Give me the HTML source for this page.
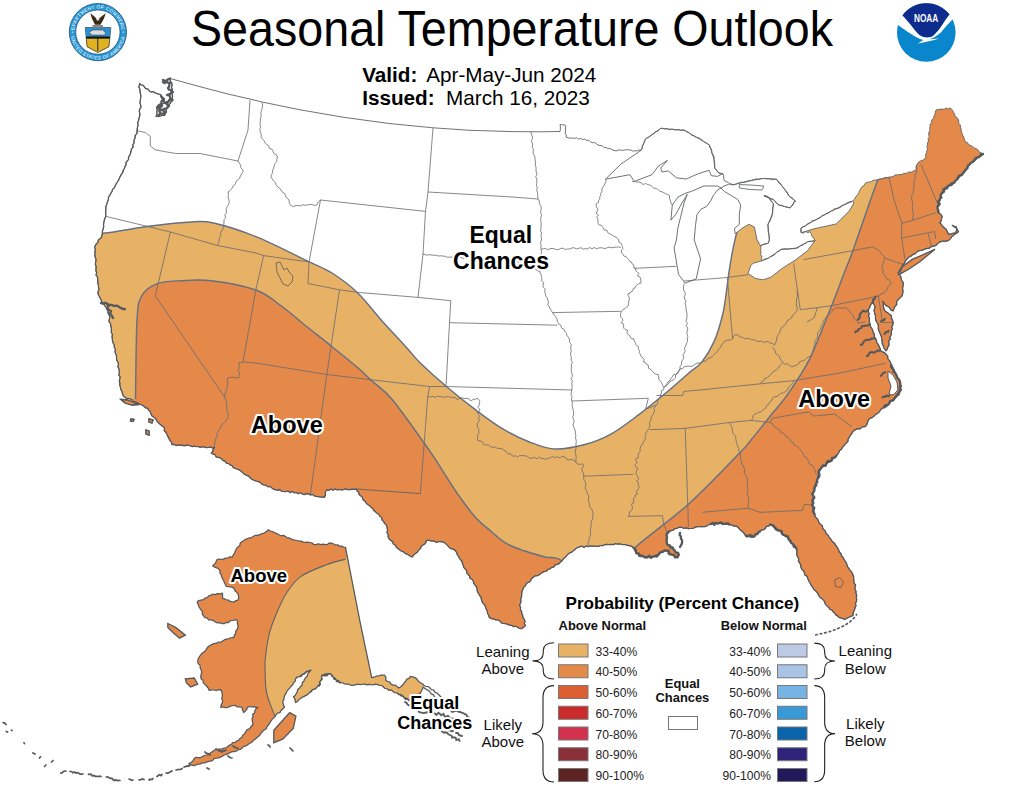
<!DOCTYPE html>
<html><head><meta charset="utf-8"><style>
html,body{margin:0;padding:0;background:#fff;}
svg{display:block;font-family:"Liberation Sans",sans-serif;}
</style></head><body>
<svg width="1024" height="791" viewBox="0 0 1024 791">
<rect width="1024" height="791" fill="#fff"/>

<defs>
<clipPath id="land"><path d="M139.8,83.3 L141.0,85.0 L143.4,85.3 L144.5,87.2 L145.9,88.7 L148.1,89.1 L149.3,90.9 L151.0,92.0 L153.3,91.6 L155.0,92.9 L156.9,93.5 L158.7,94.2 L160.7,94.7 L161.6,96.5 L162.1,98.5 L162.6,100.4 L164.5,102.3 L162.9,103.7 L161.6,105.4 L159.8,106.6 L158.6,108.4 L157.0,109.8 L156.8,112.0 L157.0,114.4 L156.0,116.5 L158.1,116.4 L160.2,116.0 L162.3,115.4 L164.5,115.5 L165.5,113.1 L166.2,110.6 L166.4,108.0 L167.7,106.4 L168.7,104.6 L170.3,103.4 L171.2,101.5 L173.0,100.4 L172.3,98.3 L172.6,96.1 L172.0,93.9 L172.4,91.7 L172.4,89.5 L171.5,87.4 L172.1,85.2 L171.7,82.9 L170.2,80.9 L170.2,78.5 L200.0,86.7 L230.0,94.5 L250.0,99.0 L262.0,102.0 L300.0,109.8 L345.0,117.5 L390.0,123.6 L433.0,127.8 L470.0,130.3 L512.0,131.6 L540.0,131.8 L560.0,131.5 L560.4,129.2 L560.4,126.8 L560.0,124.5 L562.5,124.8 L565.0,125.0 L565.8,126.9 L565.3,129.0 L565.7,131.0 L565.0,133.1 L566.4,135.0 L566.0,137.0 L568.1,137.8 L570.1,138.2 L572.3,138.0 L574.4,138.4 L576.6,137.7 L578.6,139.1 L580.8,138.5 L582.8,139.5 L585.0,139.0 L586.6,140.4 L588.9,140.2 L590.5,141.8 L592.2,142.8 L594.6,142.5 L596.3,143.7 L598.0,145.0 L600.0,145.5 L602.2,145.7 L603.8,147.5 L606.1,147.3 L607.8,148.7 L610.2,148.5 L612.0,149.7 L614.0,150.4 L616.1,151.0 L618.2,150.0 L620.2,150.0 L622.3,150.4 L624.4,150.1 L626.5,149.7 L628.5,149.9 L630.6,149.9 L632.7,151.1 L634.8,150.7 L636.8,151.0 L638.9,149.9 L641.0,150.4 L642.3,148.3 L642.2,145.8 L643.6,143.8 L644.6,141.6 L645.3,139.3 L646.9,137.9 L649.1,137.3 L650.5,135.7 L652.3,134.5 L654.2,133.7 L655.3,131.5 L657.8,131.3 L659.2,129.7 L660.8,128.3 L662.8,128.3 L664.8,129.1 L666.9,128.5 L668.8,129.8 L670.9,129.3 L672.9,129.2 L674.9,130.0 L676.9,129.7 L679.0,129.5 L680.9,130.5 L683.0,129.6 L685.0,130.5 L686.5,131.9 L688.7,132.3 L690.1,133.8 L691.6,135.3 L693.7,135.8 L695.4,136.9 L697.4,137.5 L699.4,138.1 L701.1,139.2 L702.8,140.4 L704.2,142.0 L706.1,142.8 L707.7,144.0 L709.5,145.0 L709.6,147.2 L711.3,148.9 L711.8,151.0 L711.9,153.2 L713.4,155.0 L714.1,157.0 L714.0,159.3 L714.4,161.5 L714.9,163.7 L714.7,166.0 L714.7,168.2 L716.4,169.5 L717.3,171.5 L718.8,173.0 L720.8,173.5 L722.9,173.7 L723.8,175.9 L723.7,178.3 L724.3,180.5 L726.1,181.6 L728.2,182.3 L729.7,183.9 L732.0,184.9 L734.5,184.6 L736.7,183.6 L738.9,182.9 L741.1,182.2 L743.6,182.4 L745.9,182.1 L748.0,181.0 L750.1,181.1 L752.1,180.1 L754.2,179.6 L756.2,178.8 L758.4,179.4 L760.4,178.9 L762.5,178.5 L764.8,178.4 L767.1,178.9 L769.4,178.7 L771.6,179.6 L773.9,179.3 L776.2,179.1 L777.9,180.5 L778.5,182.8 L780.8,183.6 L781.6,185.7 L783.0,187.3 L784.5,189.1 L786.1,190.9 L787.7,192.7 L788.2,195.2 L789.9,196.9 L792.2,197.7 L793.5,199.7 L795.4,201.0 L793.5,202.3 L793.1,204.8 L791.6,206.5 L789.9,207.9 L787.8,207.2 L785.5,206.8 L783.4,206.0 L781.3,205.2 L779.0,205.1 L776.8,203.6 L775.1,201.6 L773.5,199.6 L771.5,199.1 L769.4,198.6 L768.0,196.6 L766.0,195.9 L763.9,195.5 L765.6,196.7 L767.9,196.7 L769.4,198.3 L770.4,200.4 L771.8,202.2 L773.5,203.8 L773.3,206.0 L772.6,208.1 L772.7,210.3 L772.8,212.6 L772.1,214.7 L771.8,216.9 L770.8,218.7 L770.3,220.7 L769.0,222.5 L768.0,224.3 L767.8,226.6 L768.1,228.8 L768.1,231.1 L768.5,233.3 L769.3,235.5 L769.1,237.8 L769.4,240.0 L768.3,243.1 L766.4,243.8 L764.2,243.9 L762.4,244.9 L760.4,245.6 L761.0,247.7 L760.6,249.9 L761.0,252.0 L760.6,254.3 L761.9,256.4 L761.2,258.7 L762.0,260.8 L763.8,259.3 L766.1,258.8 L768.3,258.3 L769.9,256.7 L772.1,256.1 L774.1,255.0 L775.8,253.5 L777.2,251.7 L779.5,251.1 L781.0,249.4 L783.1,249.0 L785.3,248.7 L787.5,249.5 L789.6,248.9 L791.7,248.8 L793.9,248.6 L796.0,248.2 L798.3,247.8 L799.8,246.0 L802.0,245.4 L803.8,244.2 L805.8,243.3 L807.5,241.8 L810.0,241.3 L812.6,241.3 L815.0,240.6 L814.1,238.8 L812.7,237.2 L811.6,235.5 L811.2,233.4 L810.0,231.7 L807.9,232.6 L805.5,231.6 L803.5,233.0 L801.2,232.7 L800.5,230.3 L801.2,228.0 L802.7,226.5 L805.0,226.6 L806.4,224.8 L808.0,223.5 L810.0,223.0 L811.4,221.4 L813.2,220.4 L815.4,220.3 L817.2,219.2 L819.0,218.3 L820.8,217.3 L822.0,215.4 L824.2,215.1 L825.8,213.8 L827.9,213.4 L829.7,212.4 L831.2,211.0 L833.3,210.7 L834.6,208.7 L836.9,208.9 L838.7,208.1 L840.6,207.3 L841.8,205.3 L843.9,205.0 L845.8,203.7 L847.9,202.6 L850.0,201.6 L852.4,201.3 L854.1,199.8 L855.3,198.0 L856.3,196.1 L857.8,194.5 L858.9,192.5 L859.7,190.4 L860.7,188.5 L862.0,186.7 L864.1,185.5 L865.0,183.5 L867.0,182.4 L869.2,182.0 L871.4,181.5 L873.3,180.3 L875.6,180.0 L877.8,179.7 L879.7,178.9 L881.9,179.1 L883.8,178.1 L885.7,177.6 L888.0,178.0 L889.8,176.9 L891.9,176.9 L893.8,176.1 L895.6,174.8 L897.8,174.9 L899.8,174.5 L901.9,174.5 L903.7,173.4 L905.9,173.4 L907.8,172.7 L909.7,171.8 L911.9,172.3 L913.7,170.7 L915.8,170.8 L916.7,168.8 L916.1,166.4 L917.0,164.4 L918.3,162.3 L920.3,161.1 L922.6,160.3 L924.7,159.0 L926.0,157.0 L925.5,154.9 L926.5,152.9 L926.8,150.9 L927.5,148.9 L926.9,146.8 L927.6,144.8 L927.6,142.7 L928.6,140.8 L928.0,138.7 L929.3,136.8 L928.6,134.6 L928.8,132.5 L929.8,130.6 L929.7,128.5 L930.0,126.5 L930.2,124.2 L931.7,122.4 L931.7,120.1 L933.4,118.4 L934.0,116.3 L934.9,114.3 L935.4,112.1 L936.0,110.0 L938.0,109.5 L940.0,109.3 L942.0,109.0 L944.1,109.4 L945.9,108.0 L948.1,108.9 L950.0,108.0 L951.9,109.4 L953.0,111.4 L954.3,113.3 L954.8,115.7 L956.7,117.2 L958.0,119.0 L958.8,121.0 L958.7,123.3 L960.3,125.1 L960.6,127.2 L961.1,129.3 L961.5,131.5 L962.1,133.6 L962.9,135.6 L963.9,137.5 L964.6,139.6 L965.0,141.7 L967.3,142.5 L968.7,144.6 L970.9,145.7 L973.0,146.7 L974.5,148.2 L976.6,148.7 L978.1,150.3 L979.4,151.9 L981.3,152.9 L983.0,154.0 L981.5,155.8 L979.4,156.7 L977.3,157.5 L976.0,159.6 L974.3,160.9 L972.4,162.1 L970.4,163.2 L968.9,164.7 L967.5,166.3 L967.0,168.6 L965.7,170.3 L964.4,171.9 L962.8,173.4 L961.5,175.1 L959.7,176.4 L958.6,178.3 L956.9,179.7 L955.2,181.0 L953.8,182.6 L951.4,182.9 L949.9,184.5 L948.8,186.5 L946.3,186.7 L945.0,188.5 L944.5,190.8 L943.2,192.7 L941.3,194.3 L940.6,196.5 L940.0,198.7 L939.0,200.5 L938.8,202.5 L938.6,204.5 L937.5,206.3 L937.6,208.4 L938.7,210.4 L938.4,212.6 L940.6,214.2 L942.2,216.4 L941.5,218.6 L941.2,220.9 L939.7,222.8 L941.4,224.3 L942.5,226.3 L944.2,227.7 L946.0,229.1 L947.2,231.6 L948.5,234.1 L951.1,233.9 L953.6,233.2 L956.1,232.9 L956.2,230.8 L957.4,229.1 L955.8,227.7 L953.9,226.7 L952.3,225.3 L954.1,226.3 L956.1,226.6 L956.8,229.4 L958.6,231.6 L957.0,233.0 L955.2,234.0 L953.6,235.4 L951.6,236.8 L950.3,238.9 L948.5,240.5 L946.0,241.3 L943.4,241.0 L940.9,241.7 L938.9,242.5 L937.3,243.9 L935.9,245.5 L933.7,246.1 L931.4,246.7 L929.5,248.1 L927.4,248.3 L925.4,248.9 L923.5,249.7 L921.5,250.4 L919.4,250.6 L917.2,251.7 L915.5,253.6 L913.1,254.4 L911.5,255.8 L909.4,256.6 L908.0,258.2 L906.5,259.6 L905.3,261.2 L904.5,263.2 L903.0,264.5 L902.1,266.3 L901.0,268.1 L899.8,269.7 L899.0,271.6 L897.9,273.3 L900.5,275.9 L901.1,278.1 L901.6,280.3 L903.0,282.2 L903.5,284.4 L902.8,286.6 L902.6,288.8 L903.0,291.0 L902.7,293.5 L902.0,296.0 L900.2,297.8 L898.4,299.5 L896.6,301.5 L896.7,304.5 L894.9,306.5 L893.9,308.7 L893.1,311.0 L891.0,310.1 L889.8,308.0 L888.2,306.5 L886.0,305.7 L884.3,303.4 L882.5,301.2 L883.5,303.3 L883.2,305.6 L883.7,307.8 L884.2,310.0 L885.8,311.6 L887.7,312.7 L889.4,314.2 L891.3,315.4 L891.4,317.9 L892.5,320.1 L893.1,322.5 L892.9,324.6 L891.7,326.6 L892.4,328.9 L891.4,330.9 L891.3,333.1 L891.0,335.2 L889.9,337.1 L890.3,339.3 L888.6,341.0 L889.0,343.3 L888.9,345.4 L887.8,347.3 L887.2,349.3 L886.0,351.0 L884.0,348.0 L883.3,345.9 L882.2,343.8 L882.2,341.5 L881.7,339.4 L881.5,337.1 L880.7,335.0 L879.8,332.9 L879.0,330.9 L878.3,328.7 L878.4,326.4 L878.0,324.2 L876.8,322.2 L875.7,320.3 L875.4,318.0 L875.6,316.0 L874.8,314.0 L874.4,312.0 L874.0,310.1 L874.8,308.0 L874.7,306.0 L874.0,304.0 L871.9,303.0 L870.5,305.2 L869.5,307.7 L868.3,310.0 L868.5,312.0 L869.2,314.0 L868.4,316.2 L869.5,318.1 L869.4,320.2 L869.4,322.2 L870.1,324.2 L870.4,326.4 L871.7,328.2 L872.7,330.2 L873.1,332.3 L874.4,334.1 L874.2,336.5 L875.4,338.4 L876.5,340.4 L876.7,342.7 L878.4,344.5 L879.1,346.6 L880.2,348.6 L880.7,350.8 L882.5,351.9 L884.5,352.7 L886.0,354.3 L887.7,356.1 L887.8,358.7 L889.5,360.6 L890.6,362.7 L891.3,365.0 L892.6,367.0 L893.4,369.2 L894.6,371.3 L895.4,373.6 L896.6,375.6 L897.6,378.1 L899.2,380.2 L900.2,382.7 L899.8,385.1 L900.2,387.4 L901.0,389.7 L900.2,391.9 L898.0,393.0 L896.6,394.7 L895.4,396.6 L894.9,398.9 L893.1,400.4 L891.0,401.4 L889.4,403.0 L888.2,405.2 L886.4,406.6 L884.2,407.4 L882.0,408.3 L880.5,410.1 L879.2,412.0 L877.5,413.5 L875.4,414.5 L874.0,416.3 L872.1,417.6 L869.8,418.3 L868.3,420.0 L867.5,422.3 L866.8,424.6 L865.4,426.6 L863.3,426.7 L861.5,427.5 L859.9,429.0 L857.6,428.6 L855.8,429.6 L854.0,430.4 L852.6,432.0 L851.6,433.9 L850.2,435.5 L849.3,437.4 L848.1,439.1 L847.9,441.4 L846.4,443.0 L844.9,444.4 L843.8,446.1 L842.3,447.5 L841.4,449.4 L839.6,450.6 L838.8,452.5 L837.8,454.3 L836.3,455.7 L834.9,457.4 L833.2,458.9 L831.2,459.9 L829.9,461.8 L827.8,462.7 L826.4,464.5 L824.4,465.5 L822.7,466.9 L821.0,468.3 L820.3,470.2 L819.2,471.9 L819.8,474.2 L818.0,475.7 L817.9,477.8 L817.2,479.7 L816.4,481.5 L816.0,483.5 L814.9,485.5 L815.0,487.9 L814.3,490.0 L813.6,492.1 L812.8,494.1 L813.9,496.2 L813.0,498.2 L812.8,500.2 L813.6,502.3 L812.6,504.3 L812.6,506.3 L812.8,508.4 L813.0,510.5 L814.3,512.3 L814.6,514.4 L815.2,516.8 L817.0,518.4 L818.3,520.4 L819.0,522.8 L820.7,524.5 L822.4,525.8 L822.7,528.1 L824.0,529.8 L825.5,531.3 L826.0,533.4 L827.8,534.8 L828.8,536.6 L830.2,538.3 L831.4,540.0 L832.5,541.9 L834.5,543.1 L835.5,545.0 L836.8,546.7 L837.9,548.4 L838.8,550.3 L839.4,552.3 L841.1,553.6 L841.4,555.8 L843.0,557.3 L843.9,559.1 L844.9,560.9 L846.2,562.5 L846.9,564.4 L847.3,566.5 L848.7,568.1 L849.6,569.9 L851.2,571.3 L852.2,573.1 L853.0,575.0 L853.7,577.0 L853.6,579.1 L853.9,581.1 L854.1,583.2 L855.6,585.0 L854.9,587.2 L855.1,589.3 L856.0,591.2 L855.9,593.2 L856.7,595.3 L856.3,597.3 L856.7,599.3 L856.5,601.3 L855.4,603.4 L856.0,605.4 L855.2,607.4 L854.6,609.4 L853.8,611.3 L853.0,613.3 L853.0,615.5 L850.9,616.3 L848.9,617.3 L846.8,618.3 L844.9,619.5 L843.0,618.6 L840.9,618.0 L838.9,617.5 L837.6,615.9 L835.7,614.9 L834.7,613.0 L833.1,611.8 L832.0,610.0 L829.8,609.3 L828.8,607.4 L827.0,606.0 L825.4,604.4 L824.7,601.9 L823.4,600.1 L821.7,598.6 L819.9,597.2 L818.6,595.3 L817.8,593.4 L816.5,591.8 L815.1,590.4 L813.5,589.0 L812.6,587.2 L811.3,585.6 L810.5,583.7 L809.3,582.0 L808.5,580.2 L807.7,578.2 L807.1,576.2 L804.9,575.1 L804.5,573.0 L803.6,570.9 L801.8,569.3 L800.9,567.2 L800.8,564.7 L799.5,562.9 L798.4,560.9 L798.7,558.8 L797.7,556.9 L796.7,555.0 L796.9,552.9 L796.9,550.8 L796.4,548.8 L795.6,546.7 L794.3,545.0 L792.3,543.7 L790.9,542.1 L789.2,540.7 L788.3,538.6 L786.8,536.8 L784.8,535.7 L783.1,534.2 L781.3,532.7 L780.2,530.6 L777.8,530.0 L776.3,527.9 L773.8,527.4 L772.5,525.1 L770.1,524.5 L768.8,526.2 L766.4,526.3 L765.4,528.4 L763.8,529.7 L761.5,530.0 L760.0,531.4 L758.4,533.1 L756.1,533.9 L754.7,535.9 L752.6,536.9 L750.2,537.1 L748.1,535.6 L745.8,535.5 L744.2,533.5 L742.5,531.5 L740.3,530.1 L738.5,527.8 L736.2,526.0 L733.8,526.1 L731.7,524.9 L729.4,524.6 L726.7,523.9 L723.9,523.9 L721.8,523.8 L719.9,522.9 L717.7,523.7 L715.7,523.2 L713.3,523.0 L711.1,523.8 L708.9,524.6 L706.8,526.0 L704.5,526.7 L702.0,526.7 L699.7,526.7 L697.4,526.6 L695.2,527.3 L693.1,528.4 L690.7,528.5 L688.4,528.7 L686.2,527.9 L683.7,528.3 L681.5,527.3 L679.1,527.2 L677.0,528.3 L674.7,528.7 L673.2,530.2 L671.1,530.7 L669.2,531.4 L667.8,533.4 L666.5,535.5 L666.6,537.5 L666.5,539.6 L666.9,542.4 L667.9,545.1 L669.9,546.1 L671.0,548.2 L673.1,549.1 L674.7,550.6 L676.6,552.8 L678.8,554.7 L677.4,557.4 L675.7,556.3 L673.7,555.7 L672.0,554.7 L670.1,553.5 L668.6,551.6 L666.5,550.6 L663.6,550.7 L661.0,552.0 L658.3,554.7 L655.4,555.3 L652.8,556.7 L650.7,556.8 L648.7,557.4 L646.7,557.9 L644.6,557.4 L642.9,555.7 L640.6,555.1 L638.7,553.9 L636.4,553.3 L635.3,551.6 L634.7,549.6 L633.7,547.9 L631.7,546.3 L629.3,545.6 L626.8,545.1 L624.6,544.5 L622.2,544.5 L620.0,543.8 L617.8,544.1 L615.6,543.6 L613.5,544.6 L611.3,544.3 L609.2,544.6 L606.9,544.3 L604.8,544.7 L602.7,545.6 L600.5,545.5 L598.5,546.4 L596.4,546.3 L594.3,546.2 L592.2,546.2 L590.0,546.0 L588.0,546.7 L586.0,546.1 L584.0,547.4 L582.0,546.2 L580.0,546.7 L577.8,547.5 L575.7,548.7 L573.9,550.3 L572.2,551.9 L570.0,552.8 L568.0,554.1 L566.5,555.8 L565.0,557.5 L563.2,558.9 L562.0,561.0 L560.4,562.3 L558.9,563.8 L556.8,564.4 L554.9,565.2 L553.7,567.1 L551.5,567.5 L550.0,569.0 L547.9,569.3 L546.6,571.1 L544.5,571.5 L542.6,572.3 L541.0,573.5 L539.3,574.7 L537.5,575.6 L535.3,575.8 L533.7,577.0 L531.9,578.1 L530.9,580.0 L529.8,581.8 L527.6,582.5 L526.2,584.0 L525.3,586.0 L523.6,587.2 L523.0,589.2 L522.1,591.1 L521.7,593.1 L521.7,595.3 L521.4,597.3 L520.7,599.3 L520.9,601.5 L520.4,603.5 L519.5,605.4 L520.6,607.3 L520.4,609.5 L521.5,611.4 L521.8,613.5 L522.7,615.5 L523.1,617.5 L524.3,619.4 L525.0,621.4 L524.3,623.8 L525.6,625.6 L523.7,627.3 L521.6,628.6 L519.4,628.5 L517.6,627.2 L515.7,626.3 L513.3,626.6 L511.5,625.3 L509.4,625.1 L507.4,624.2 L505.4,623.6 L503.1,623.5 L501.1,622.7 L499.6,620.6 L497.5,620.0 L495.3,619.8 L493.3,618.9 L491.1,618.6 L489.2,617.5 L488.8,615.3 L487.5,613.5 L487.4,611.2 L486.3,609.3 L485.5,607.2 L484.9,605.1 L483.1,603.5 L482.0,601.6 L481.4,599.5 L481.0,597.3 L479.6,595.5 L478.4,593.5 L477.4,591.5 L477.1,589.2 L476.5,587.0 L475.0,585.2 L473.8,583.4 L473.3,581.2 L472.2,579.5 L470.0,578.3 L469.6,576.1 L468.2,574.5 L466.7,572.9 L466.7,570.4 L465.0,569.0 L463.8,567.4 L463.3,565.4 L462.5,563.5 L462.0,561.5 L460.7,559.9 L459.4,558.3 L458.6,556.4 L457.3,554.8 L456.8,552.8 L455.5,550.8 L453.8,549.3 L451.3,548.8 L449.4,547.6 L447.9,545.9 L446.3,544.3 L444.7,542.7 L442.7,541.9 L440.7,541.7 L438.7,541.5 L436.5,542.5 L434.6,541.2 L432.6,541.1 L430.6,540.9 L428.6,540.2 L426.5,540.7 L425.8,542.7 L424.5,544.3 L422.5,545.3 L421.1,546.8 L420.4,548.8 L418.6,550.2 L417.4,552.2 L415.5,553.5 L413.7,554.9 L412.4,556.8 L410.3,556.3 L408.7,555.0 L406.9,554.1 L405.0,553.3 L403.5,551.8 L401.5,551.2 L399.8,550.1 L398.2,548.8 L396.3,547.4 L395.5,545.1 L393.3,544.0 L392.6,541.6 L390.6,540.4 L388.9,538.8 L388.0,536.6 L388.3,534.5 L386.9,532.6 L387.6,530.4 L387.2,528.4 L386.9,526.4 L386.0,524.5 L384.4,523.2 L383.5,521.3 L381.9,520.0 L381.7,517.6 L380.0,516.4 L378.8,514.5 L377.1,513.2 L375.4,511.8 L373.7,510.4 L372.7,508.4 L370.9,507.2 L369.5,505.5 L367.5,504.5 L366.0,502.8 L364.8,501.0 L363.0,499.7 L362.5,497.5 L361.0,496.0 L359.2,494.7 L358.7,492.3 L357.0,491.0 L356.0,489.0 L353.9,489.4 L351.8,489.2 L349.8,489.7 L347.7,489.6 L345.6,488.8 L343.5,489.6 L341.4,489.9 L339.3,489.5 L337.2,489.8 L335.1,489.0 L333.1,490.2 L331.0,489.0 L328.9,490.4 L326.8,489.8 L325.6,491.5 L325.3,493.5 L325.3,495.6 L324.3,497.4 L322.3,497.1 L320.3,497.0 L318.3,496.7 L316.3,496.4 L314.3,495.8 L312.5,494.5 L310.4,494.9 L308.5,493.9 L306.4,493.7 L304.2,494.6 L302.3,494.0 L300.4,492.8 L298.2,493.8 L296.3,492.5 L294.2,492.8 L292.3,491.5 L290.1,492.6 L288.2,491.1 L286.1,491.5 L284.0,491.5 L282.0,491.4 L280.1,489.9 L278.0,490.1 L276.0,489.8 L273.8,489.4 L272.0,488.1 L270.2,486.6 L267.8,486.7 L266.0,485.3 L263.8,485.0 L261.8,484.1 L260.2,482.4 L258.1,481.6 L256.0,481.0 L254.0,480.3 L252.2,479.4 L250.5,478.3 L249.2,476.6 L247.4,475.6 L245.5,474.8 L243.7,473.8 L242.3,472.2 L240.7,471.0 L239.0,469.8 L237.1,469.0 L235.1,468.5 L233.3,467.6 L232.1,465.6 L230.1,465.0 L228.6,463.5 L226.4,463.3 L225.2,461.2 L223.1,460.7 L221.8,459.0 L220.1,457.9 L218.1,457.3 L216.0,456.8 L215.0,454.6 L212.9,454.1 L211.2,453.0 L212.8,451.5 L213.1,449.3 L214.5,447.7 L212.4,448.0 L210.5,446.9 L208.4,447.5 L206.4,447.6 L204.4,447.2 L202.4,446.7 L200.3,447.4 L198.3,446.5 L196.3,446.5 L194.3,446.2 L192.2,446.7 L190.2,445.7 L188.2,445.4 L186.2,445.2 L184.1,445.8 L182.1,445.1 L180.1,445.4 L178.1,444.8 L176.0,445.6 L174.1,444.3 L172.0,444.7 L171.6,442.4 L170.0,440.6 L169.0,438.6 L168.0,436.6 L167.0,434.5 L166.0,432.5 L164.3,430.8 L164.5,428.1 L162.9,426.4 L161.1,425.2 L159.5,423.7 L157.9,422.3 L156.6,420.6 L155.7,418.5 L153.8,417.3 L152.0,415.9 L150.9,414.0 L150.4,411.7 L148.5,410.3 L147.7,408.2 L145.3,407.8 L143.7,406.0 L141.7,405.0 L139.6,404.0 L137.7,402.8 L135.5,402.0 L133.2,401.5 L131.7,399.5 L129.6,398.7 L127.1,398.6 L125.2,397.5 L123.4,396.0 L122.6,393.8 L121.9,391.5 L120.8,389.4 L120.4,387.0 L119.7,385.0 L119.9,383.0 L119.3,381.0 L119.8,378.9 L120.1,376.8 L118.8,374.9 L119.3,372.8 L119.3,370.8 L118.8,368.8 L117.9,366.8 L118.4,364.4 L118.1,362.3 L116.8,360.3 L116.4,358.2 L116.6,355.9 L115.7,353.9 L115.0,351.8 L115.4,349.5 L114.3,347.5 L114.3,345.2 L113.2,343.2 L112.6,341.1 L112.3,338.9 L112.1,336.7 L112.4,334.3 L111.3,332.3 L111.4,330.1 L111.3,327.9 L110.8,325.8 L110.5,323.7 L109.0,321.8 L109.3,319.5 L109.7,317.3 L109.3,315.2 L108.0,313.2 L108.0,311.0 L106.8,309.2 L105.9,307.1 L104.5,305.5 L103.5,303.5 L101.8,302.0 L101.2,299.8 L100.1,297.9 L99.0,296.0 L98.1,294.0 L98.0,291.8 L99.0,289.6 L98.5,287.5 L98.5,285.4 L97.8,283.3 L97.8,281.2 L97.7,279.1 L97.5,277.0 L96.0,275.0 L96.7,272.8 L95.9,270.7 L96.0,268.6 L96.1,266.5 L95.4,264.4 L95.6,262.2 L96.1,260.0 L95.5,257.9 L94.8,255.8 L95.1,253.7 L94.8,251.6 L95.4,249.4 L94.6,247.3 L95.4,245.4 L96.5,243.7 L98.0,242.2 L98.3,240.1 L100.0,238.7 L101.5,237.3 L102.0,235.2 L102.4,233.1 L102.5,230.9 L103.2,228.8 L103.7,226.7 L103.5,224.5 L103.9,222.4 L104.3,220.2 L105.0,218.2 L105.7,216.1 L105.7,213.8 L105.7,211.5 L105.9,209.2 L105.8,206.9 L106.6,204.7 L107.3,202.2 L108.4,199.8 L108.5,197.1 L109.8,195.3 L110.8,193.4 L112.0,191.5 L112.6,189.3 L114.4,187.8 L115.2,185.7 L116.2,183.8 L117.4,182.0 L118.6,180.1 L119.5,178.1 L120.4,176.1 L121.4,174.2 L122.8,172.5 L123.2,170.4 L124.3,168.7 L124.9,166.7 L126.0,164.9 L125.9,162.7 L127.2,161.0 L128.6,159.4 L128.5,157.2 L129.7,155.4 L130.4,153.5 L131.1,151.3 L131.4,149.1 L133.1,147.2 L132.8,144.7 L134.1,142.8 L133.9,140.3 L135.1,138.3 L135.1,135.6 L136.9,133.4 L137.0,130.7 L137.4,127.8 L138.0,125.0 L137.7,122.6 L138.6,120.4 L139.0,118.1 L139.8,115.9 L139.8,113.6 L139.3,111.4 L139.6,109.3 L140.9,107.3 L140.7,105.1 L139.9,102.9 L140.3,100.8 L140.5,98.7 L140.8,96.6 L140.6,94.1 L140.0,91.8 L139.9,89.3 L138.9,87.0Z M605.5,179.2 L621.0,164.0 L641.0,150.4 L645.3,139.3 L660.8,128.3 L685.0,130.5 L709.5,145.0 L714.0,159.3 L714.7,168.2 L718.8,173.0 L722.9,173.7 L717.4,176.4 L711.3,175.7 L709.2,170.3 L698.3,173.7 L686.0,179.1 L676.4,177.8 L668.2,170.9 L662.0,172.0 L660.8,168.1 L667.5,160.4 L658.6,165.9 L652.0,174.7 L634.3,181.4 L629.8,174.7Z M672.3,205.1 L670.9,220.2 L676.0,214.0 L681.9,203.0 L687.3,194.2 L684.0,203.0 L680.5,217.4 L677.8,228.4 L676.4,240.0 L674.1,247.8 L678.5,274.3 L685.2,283.2 L696.2,278.8 L700.6,258.8 L694.2,240.0 L695.5,225.6 L696.9,214.7 L701.0,209.2 L706.5,206.5 L710.6,201.0 L713.3,195.5 L717.4,190.1 L721.0,188.0 L717.4,186.0 L703.8,186.0 L691.4,191.4 L686.0,193.0 L678.0,197.0Z M729.7,183.9 L734.5,184.6 L748.0,181.0 L762.5,178.5 L776.2,179.1 L783.0,187.3 L789.9,196.9 L795.4,201.0 L789.9,207.9 L779.0,205.1 L773.5,199.6 L763.9,195.5 L769.4,198.3 L773.5,203.8 L772.1,214.7 L768.0,224.3 L769.4,240.0 L768.3,243.1 L760.4,245.6 L757.1,240.0 L754.3,227.0 L748.9,224.3 L742.0,228.4 L735.2,233.8 L734.5,228.4 L739.3,224.3 L739.3,214.7 L740.7,205.1 L737.9,199.6 L724.3,191.4 L721.0,188.0 L724.0,186.0Z M768.3,258.3 L781.0,249.4 L796.0,248.2 L807.5,241.8 L815.0,240.6 L807.5,250.7 L796.0,259.6 L782.2,268.4 L770.8,277.3 L763.2,279.8 L755.6,278.5 L748.0,273.5 L750.6,265.9 L753.0,263.3 L762.0,260.8Z M801.2,228.0 L810.0,223.0 L831.2,211.0 L843.9,205.0 L852.4,201.3 L854.0,203.0 L849.0,211.3 L836.3,223.9 L813.5,228.9 L801.2,232.7Z" clip-rule="evenodd"/></clipPath>
<clipPath id="ak"><path d="M345.5,547.3 L343.5,547.1 L341.7,546.1 L339.5,546.3 L337.8,544.8 L335.6,545.0 L333.8,544.0 L331.9,543.4 L329.6,542.8 L327.5,544.3 L325.3,544.6 L323.0,544.1 L320.8,544.6 L318.5,543.9 L316.3,544.4 L314.0,544.7 L312.1,543.0 L309.9,542.5 L307.7,542.2 L305.4,542.4 L303.2,542.1 L301.1,541.1 L298.9,540.9 L296.7,540.5 L294.7,540.0 L292.7,539.6 L290.9,538.9 L289.0,537.9 L287.0,537.6 L285.2,536.3 L283.3,535.4 L280.9,535.8 L279.0,534.8 L277.2,533.7 L275.0,532.8 L272.8,531.7 L270.5,531.0 L268.4,529.8 L266.4,531.5 L264.2,533.0 L261.6,533.7 L259.7,534.7 L257.7,535.3 L255.4,535.3 L253.5,536.2 L251.8,537.6 L249.6,537.8 L247.6,538.5 L245.6,539.3 L243.9,540.5 L242.0,541.5 L240.2,543.2 L239.7,545.8 L237.4,547.2 L236.2,549.3 L235.1,551.2 L234.5,553.3 L233.2,555.1 L232.3,557.1 L229.9,556.8 L227.8,558.0 L225.5,558.1 L223.4,559.1 L221.1,559.4 L218.7,559.0 L216.6,560.0 L215.9,562.4 L214.4,564.2 L212.7,565.9 L214.5,567.1 L216.7,567.8 L218.6,568.8 L220.0,570.5 L219.9,572.8 L221.1,574.6 L221.6,576.7 L222.5,578.6 L223.6,580.5 L224.4,582.5 L225.3,584.5 L226.4,586.4 L228.4,586.7 L230.5,586.8 L232.4,587.4 L234.2,588.4 L235.0,590.7 L236.7,592.3 L238.1,594.2 L238.7,597.2 L238.1,600.1 L235.9,600.5 L234.2,602.0 L232.1,601.7 L230.1,601.3 L228.4,600.0 L226.3,599.8 L224.4,598.8 L222.5,598.1 L222.6,595.7 L222.5,593.2 L220.1,593.9 L217.6,593.6 L215.2,594.6 L212.7,594.2 L210.7,595.2 L208.7,596.0 L207.2,597.7 L205.0,598.2 L203.3,599.7 L201.0,600.1 L198.8,600.5 L197.1,602.0 L198.0,604.0 L198.7,606.1 L199.7,608.0 L201.0,609.8 L202.5,611.5 L202.2,614.1 L203.6,615.9 L204.9,617.7 L207.1,617.9 L208.6,619.8 L210.8,619.9 L212.9,620.3 L214.7,621.6 L217.0,622.8 L219.6,622.6 L222.0,623.5 L224.5,623.5 L226.3,622.3 L228.5,622.6 L230.1,620.9 L232.2,620.5 L234.2,620.1 L236.2,619.6 L237.6,621.3 L237.3,623.6 L238.1,625.5 L237.9,627.6 L237.1,629.5 L235.8,631.2 L235.6,633.3 L234.3,635.1 L234.2,637.2 L232.2,637.7 L230.1,637.9 L228.3,639.1 L226.2,639.2 L224.3,639.9 L222.5,641.1 L220.7,642.3 L218.5,642.0 L216.7,643.3 L214.6,643.3 L212.7,644.1 L210.8,645.0 L208.3,646.5 L206.5,648.8 L205.2,651.0 L203.1,652.5 L201.2,654.2 L199.7,656.4 L198.2,658.5 L197.7,661.2 L198.2,663.6 L200.1,665.4 L200.2,667.9 L201.2,670.1 L201.8,672.3 L201.1,674.5 L200.7,676.7 L201.2,678.9 L203.0,680.3 L203.3,682.9 L205.0,684.4 L206.5,686.0 L208.2,688.0 L209.2,690.4 L211.5,689.8 L213.8,690.0 L216.1,690.5 L218.4,689.9 L220.7,689.6 L221.7,691.6 L222.2,693.7 L222.4,695.9 L221.7,698.2 L222.5,700.2 L222.4,702.7 L221.2,704.9 L220.7,707.3 L223.1,707.0 L225.4,707.6 L227.8,707.3 L230.4,706.2 L233.1,705.5 L235.4,705.4 L237.4,707.0 L239.8,706.9 L242.0,707.3 L242.6,710.0 L243.7,712.6 L245.3,711.1 L246.7,709.5 L247.3,707.3 L249.4,706.5 L251.5,707.0 L253.7,706.7 L255.8,707.3 L257.9,707.3 L256.1,708.7 L254.9,710.5 L254.5,713.0 L252.6,714.3 L253.1,716.4 L252.1,718.6 L252.3,720.7 L252.8,722.9 L252.6,725.0 L250.9,726.8 L249.4,728.9 L246.9,729.9 L245.5,732.0 L244.5,733.9 L242.7,735.2 L242.0,737.3 L240.1,738.3 L238.8,740.2 L236.8,741.1 L235.1,742.4 L232.7,742.7 L231.3,744.4 L228.9,745.5 L226.9,747.5 L224.2,748.0 L222.1,748.9 L219.8,749.1 L217.6,749.3 L215.4,749.7 L213.6,750.7 L211.9,752.0 L210.2,753.1 L208.7,754.6 L206.5,755.0 L204.4,755.5 L202.5,756.5 L200.6,757.5 L198.3,757.5 L196.0,757.3 L194.2,758.6 L192.9,760.9 L191.0,762.5 L188.8,763.9 L191.4,765.1 L194.2,765.7 L196.1,764.8 L198.2,764.2 L200.4,763.9 L202.3,762.9 L204.5,762.8 L206.5,762.1 L208.5,761.4 L210.7,761.2 L212.7,760.5 L214.1,758.3 L216.4,758.2 L218.5,757.8 L220.5,757.1 L222.4,756.2 L224.2,755.0 L226.3,754.4 L228.3,753.7 L230.2,752.5 L232.2,751.6 L234.5,751.7 L236.6,751.0 L238.4,749.7 L240.5,749.3 L242.1,748.0 L243.6,746.4 L245.7,746.1 L247.4,745.0 L249.0,743.7 L250.8,742.7 L252.7,741.4 L254.2,739.7 L256.1,738.5 L257.7,736.9 L259.6,735.6 L260.5,733.4 L262.4,731.9 L263.8,730.1 L266.1,729.0 L267.0,726.7 L268.5,725.0 L269.7,723.1 L270.8,721.2 L272.1,719.4 L273.8,717.9 L275.0,716.3 L276.2,714.6 L277.5,713.1 L279.9,712.6 L280.9,710.8 L282.6,709.0 L284.4,707.3 L283.5,704.7 L282.7,702.0 L283.7,699.8 L284.2,697.4 L284.8,695.1 L286.2,693.1 L287.0,690.9 L288.6,689.4 L289.9,687.6 L291.5,686.0 L292.9,684.4 L293.7,682.5 L295.3,681.1 L295.5,678.8 L296.8,677.2 L299.5,676.6 L301.6,674.9 L303.9,673.6 L306.0,671.8 L308.4,670.8 L311.0,670.1 L309.6,671.9 L307.9,673.4 L307.4,675.8 L306.0,677.5 L304.5,679.1 L303.9,681.2 L302.2,682.6 L302.2,685.1 L300.5,686.5 L299.4,688.2 L297.6,689.6 L297.3,691.9 L296.2,693.6 L295.3,695.5 L293.5,696.8 L294.7,698.5 L295.2,700.5 L295.5,702.5 L297.4,701.6 L298.6,699.8 L300.4,698.8 L301.9,697.4 L303.9,696.6 L305.8,695.4 L307.8,694.4 L309.4,692.8 L311.0,691.3 L312.5,689.5 L314.8,688.8 L316.7,687.6 L318.1,685.7 L319.8,684.2 L319.6,681.9 L321.2,679.9 L321.7,677.7 L321.6,675.4 L323.7,674.7 L325.9,673.9 L328.1,673.6 L330.4,673.6 L332.0,675.1 L333.2,677.0 L335.0,678.2 L336.3,680.0 L338.7,680.7 L340.0,682.5 L342.2,682.7 L344.2,683.8 L346.4,684.1 L348.6,684.2 L350.7,685.1 L352.9,685.3 L355.2,684.8 L357.6,684.1 L360.0,684.6 L362.2,684.5 L364.4,683.9 L366.6,684.8 L368.8,684.3 L371.0,684.6 L373.2,684.8 L375.4,684.2 L377.6,684.6 L379.6,685.3 L381.8,685.5 L383.4,687.0 L385.0,688.5 L387.2,688.8 L388.8,690.3 L391.3,689.9 L392.9,691.5 L394.7,692.6 L396.9,692.9 L398.7,694.0 L401.0,694.6 L402.9,695.9 L404.5,697.5 L407.2,698.5 L409.2,700.4 L411.2,699.7 L412.4,697.7 L414.8,697.6 L416.2,696.0 L418.1,695.1 L419.8,694.0 L421.1,691.7 L422.2,689.4 L423.3,687.0 L424.8,688.5 L426.6,689.6 L428.5,690.5 L430.0,692.0 L431.3,693.9 L433.5,694.9 L434.6,697.0 L436.1,698.7 L438.0,700.0 L439.3,701.9 L441.4,703.0 L442.5,705.1 L443.9,706.9 L446.0,708.0 L448.0,706.9 L450.0,706.0 L448.3,704.8 L447.2,703.1 L446.2,701.2 L443.9,700.7 L442.3,699.4 L441.4,697.5 L440.0,696.0 L438.5,694.5 L436.9,693.0 L434.9,692.2 L433.8,690.1 L431.4,689.7 L430.0,688.0 L428.4,686.6 L426.0,686.5 L424.1,685.5 L422.6,683.8 L420.3,682.7 L418.4,681.2 L416.9,679.1 L415.0,677.6 L412.7,676.9 L410.4,676.4 L409.2,678.3 L406.8,679.0 L405.7,681.1 L404.1,683.0 L402.6,685.0 L400.8,686.7 L398.7,688.1 L397.1,686.6 L395.4,685.2 L392.9,685.1 L390.9,684.1 L389.7,681.9 L387.4,681.5 L385.8,680.0 L385.9,677.4 L384.6,675.2 L381.1,675.2 L378.8,675.8 L376.3,676.2 L374.1,677.2 L371.7,677.6 L360.0,621.6Z"/></clipPath>
</defs>
<g clip-path="url(#land)">
<path d="M40.0,236.0 C49.8,235.6 80.5,235.4 99.0,233.7 C117.5,232.0 135.2,227.9 150.7,226.0 C166.2,224.1 181.7,222.5 192.0,222.0 C202.3,221.5 201.8,220.4 212.5,222.8 C223.2,225.2 240.3,230.4 256.0,236.7 C271.7,243.0 293.9,254.6 306.6,260.7 C319.3,266.8 323.6,267.7 332.0,273.0 C340.4,278.3 348.6,284.2 357.0,292.3 C365.4,300.4 374.0,311.9 382.5,321.4 C391.0,330.8 401.6,342.1 407.8,349.0 C414.1,355.9 413.4,356.3 420.0,362.7 C426.6,369.1 438.2,379.6 447.3,387.3 C456.4,395.1 465.6,402.4 474.7,409.2 C483.8,416.0 492.9,422.9 502.0,428.4 C511.1,433.9 520.7,438.6 529.4,442.0 C538.1,445.4 544.9,448.4 554.0,448.9 C563.1,449.4 574.4,447.3 584.0,444.8 C593.6,442.3 602.3,438.8 611.4,433.8 C620.5,428.8 629.7,421.5 638.8,414.7 C647.9,407.9 657.8,399.6 666.0,392.8 C674.2,386.0 682.1,378.8 688.0,373.7 C693.9,368.6 697.1,367.9 701.5,362.4 C705.9,356.9 710.8,349.1 714.4,340.9 C718.0,332.7 721.0,321.5 723.0,313.0 C725.0,304.5 725.6,296.8 726.6,290.0 C727.6,283.2 728.0,279.0 729.0,272.2 C730.0,265.4 731.6,255.9 732.9,249.4 C734.2,242.9 735.4,237.6 736.7,233.0 C738.1,228.4 739.8,225.8 741.0,222.0 C742.2,218.2 742.5,215.3 744.0,210.0 C745.5,204.7 747.3,200.0 750.0,190.0 C752.7,180.0 758.3,156.7 760.0,150.0 L1024.0,150.0 L1024.0,791.0 L0.0,791.0 L0.0,236.0Z" fill="#E8B266"/>
<path d="M135.5,399.0 C135.8,385.9 136.0,337.4 137.0,320.2 C138.0,303.0 138.3,302.1 141.6,296.0 C144.9,289.9 150.2,286.4 156.8,283.8 C163.4,281.2 171.9,281.2 181.0,280.7 C190.1,280.2 198.9,279.1 211.4,280.7 C223.9,282.2 244.3,285.8 256.0,290.0 C267.6,294.2 272.9,299.9 281.3,306.0 C289.7,312.1 298.2,319.7 306.6,326.5 C315.1,333.3 323.6,339.9 332.0,346.7 C340.4,353.4 350.3,361.3 357.0,367.0 C363.7,372.7 366.1,375.5 372.0,381.0 C377.9,386.5 382.9,388.3 392.6,400.0 C402.3,411.7 421.2,438.9 430.0,451.4 C438.8,463.9 440.1,467.2 445.2,474.9 C450.2,482.6 455.2,490.6 460.3,497.7 C465.4,504.8 470.4,511.8 475.5,517.4 C480.6,522.9 485.6,526.7 490.7,531.0 C495.8,535.3 500.3,539.9 505.9,543.2 C511.5,546.5 517.6,548.5 524.1,550.8 C530.6,553.1 538.7,555.3 545.0,557.0 C551.3,558.7 554.5,555.5 562.0,561.0 C569.5,566.5 585.3,585.2 590.0,590.0 L600.0,620.0 L500.0,700.0 L80.0,700.0 L80.0,399.0Z" fill="#E4894A"/>
<path d="M877.8,179.7 C876.6,183.1 874.7,187.9 870.5,200.0 C866.3,212.1 856.6,240.3 852.4,252.0 C848.2,263.7 849.1,260.6 845.4,270.0 C841.7,279.4 836.5,293.7 830.4,308.7 C824.3,323.7 816.2,345.9 809.0,360.2 C801.8,374.5 794.1,385.0 787.4,394.6 C780.7,404.2 775.0,410.1 768.9,417.7 C762.8,425.3 755.9,434.1 751.0,440.0 C746.1,445.9 750.0,442.4 739.7,453.0 C729.4,463.6 706.3,488.1 689.0,503.7 C671.7,519.3 649.2,534.8 636.0,546.7 C622.8,558.6 614.3,570.3 610.0,575.0 L600.0,600.0 L1000.0,700.0 L1024.0,100.0 L880.0,100.0Z" fill="#E4894A"/>
</g>
<path d="M137.0,130.7 L145.5,132.6 L150.3,136.4 L150.3,145.9 L155.0,149.7 L164.5,151.6 L175.9,153.5 L200.0,153.5 L238.0,161.0 M250.0,100.0 L248.0,130.0 L238.0,161.0 M238.0,161.0 L239.3,163.1 L240.6,165.1 L240.8,167.7 L242.7,169.5 L243.0,172.0 L241.5,174.0 L240.4,176.1 L239.5,178.5 L237.4,180.0 L236.0,182.0 L235.1,184.5 L232.9,186.1 L231.8,188.5 L230.2,190.5 L228.0,192.0 L228.5,194.6 L228.1,197.4 L229.0,200.0 L229.2,202.4 L228.5,204.5 L227.3,206.5 L226.2,208.6 L226.4,211.0 L226.2,213.2 L224.7,215.2 L225.8,217.8 L223.9,219.7 L224.0,222.0 L223.8,224.2 L223.5,226.4 L222.9,228.6 L222.0,230.6 L220.5,232.5 L221.1,235.0 L219.8,236.9 L219.1,239.0 L219.0,241.3 L218.1,243.3 L217.6,245.5 M106.0,216.4 L170.4,232.0 L217.6,245.5 M217.6,245.5 L256.0,253.0 L263.6,255.6 L309.0,262.0 M262.0,102.5 L262.6,105.0 L262.3,107.4 L261.9,109.7 L260.8,112.0 L261.0,114.5 L261.0,116.9 L260.3,119.2 L260.3,121.6 L260.0,124.0 L260.6,126.6 L259.9,129.2 L260.2,131.8 L261.3,134.4 L261.0,137.0 L262.4,138.9 L264.0,140.7 L265.0,142.9 L266.7,144.5 L268.8,145.8 L269.3,148.5 L272.0,149.3 L273.1,151.5 L274.1,153.7 L276.5,154.8 L277.5,157.0 L276.8,159.2 L276.8,161.7 L275.0,163.6 L274.2,165.7 L273.8,168.1 L272.5,170.1 L272.8,172.7 L271.4,174.7 L271.0,177.0 L272.3,179.0 L273.7,180.8 L275.3,182.5 L276.2,184.8 L277.5,186.8 L279.6,188.1 L281.0,190.0 L282.4,192.2 L284.8,193.5 L285.5,196.2 L287.2,198.2 L289.0,200.0 L289.4,203.3 L291.4,206.0 L293.7,206.5 L296.0,205.4 L298.3,205.5 L300.6,205.9 L302.9,204.7 L305.2,205.4 L307.5,204.8 L309.8,204.6 L312.1,204.4 L314.4,205.6 L316.7,205.0 L318.1,202.1 L320.5,200.0 M320.5,200.0 L309.0,262.0 M320.5,200.0 L425.5,211.4 M433.0,128.0 L428.0,192.0 L425.5,211.4 M425.5,211.4 L423.0,254.0 L418.0,297.4 M308.0,283.5 L339.5,289.8 L357.0,292.3 L418.0,297.4 L450.8,300.7 M450.8,300.7 L449.5,322.7 L446.0,386.5 M309.0,262.0 L308.0,283.5 M170.4,232.0 L155.3,295.9 L225.0,397.6 M263.6,255.6 L256.0,289.0 L243.0,362.0 M243.0,362.0 L238.8,362.7 L239.3,365.2 L239.0,367.8 L238.1,370.4 L239.6,372.9 L238.9,375.4 L238.8,378.0 L236.1,377.9 L233.4,377.3 L230.7,377.4 L228.0,378.0 L227.1,380.3 L227.8,382.8 L227.3,385.2 L227.1,387.6 L226.6,390.0 L225.4,392.4 L224.7,394.9 L225.0,397.6 M225.0,397.6 L226.0,399.7 L226.2,401.9 L226.5,404.1 L226.8,406.3 L226.7,408.5 L226.8,410.8 L227.8,412.9 L228.5,415.0 L228.0,417.3 L226.8,419.3 L225.6,421.2 L224.0,422.9 L222.1,424.4 L221.2,426.6 L220.1,428.7 L218.6,430.5 L217.5,432.5 L216.8,434.6 L217.4,437.0 L215.5,438.9 L215.3,441.1 L214.7,443.2 L214.4,445.4 L214.5,447.7 M243.0,362.0 L256.0,363.0 L326.8,374.5 L369.8,379.6 L429.6,386.5 L446.0,386.5 L571.8,390.0 M339.5,289.8 L326.8,374.5 L310.4,494.9 M429.6,386.5 L427.7,397.0 L420.4,493.6 M427.7,397.0 L429.5,396.8 L431.4,396.9 L433.2,396.2 L435.0,397.7 L436.9,396.2 L438.7,396.3 L440.5,396.8 L442.3,396.8 L444.1,397.4 L446.0,396.7 L447.8,396.6 L449.6,397.1 L451.5,397.1 L453.3,397.9 L455.1,397.1 L456.8,399.5 L458.7,398.9 L460.6,397.7 L462.4,398.1 L464.2,398.4 L466.0,398.6 L467.9,398.0 L469.6,400.1 L471.4,400.6 L473.3,399.2 L475.2,399.4 L477.0,398.3 L478.8,399.6 L479.9,401.5 L479.2,403.3 L479.3,405.2 L477.7,407.1 L479.6,409.0 L479.9,410.8 L477.3,412.7 L478.4,414.5 L479.5,416.4 L478.3,418.3 L479.7,420.2 L478.3,422.0 L477.0,423.9 L477.3,425.7 L477.7,427.6 L478.9,429.5 L478.6,431.4 L479.1,433.2 L477.3,435.1 L478.0,437.0 L477.3,438.8 L478.0,440.7 L479.9,440.9 L481.8,441.3 L482.9,443.6 L484.4,444.7 L486.3,445.0 L488.4,444.8 L489.8,446.3 L491.5,447.0 L493.3,447.5 L495.5,446.8 L496.9,448.3 L498.8,448.5 L500.8,448.3 L502.5,449.0 L504.0,450.4 L505.7,451.0 L507.0,452.8 L508.4,454.2 L510.6,453.5 L511.8,455.5 L513.5,456.3 L515.7,455.7 L517.4,457.1 L519.4,455.7 L521.2,455.5 L523.1,455.7 L524.9,455.8 L526.7,456.0 L528.4,457.3 L530.1,458.3 L532.0,458.3 L533.9,457.4 L535.7,458.1 L537.5,458.7 L539.5,456.9 L541.1,458.7 L543.0,458.4 L545.0,459.3 L546.9,458.8 L548.8,458.5 L550.7,457.5 L552.5,456.5 L554.6,457.9 L556.4,456.5 L558.5,457.6 L560.4,457.8 L562.2,456.3 L564.0,456.8 L565.7,457.6 L566.8,459.8 L568.8,460.0 L571.1,459.3 L572.9,460.0 L574.6,460.8 L575.9,462.5 L577.9,464.1 L580.3,464.3 L582.7,463.9 L583.8,465.9 L582.1,468.1 L581.8,470.1 L582.8,472.1 L583.8,474.1 L583.5,476.2 M428.0,192.0 L512.0,197.0 L538.0,199.0 M531.0,131.5 L531.2,133.8 L532.2,135.9 L532.7,138.2 L531.3,140.7 L532.2,142.9 L532.7,145.1 L532.3,147.5 L533.5,149.6 L533.0,152.0 L533.4,154.2 L534.8,156.3 L535.0,158.6 L535.2,160.9 L535.6,163.1 L535.3,165.5 L536.1,167.7 L536.0,170.0 L536.3,172.2 L537.0,174.4 L535.7,176.7 L536.9,178.9 L536.8,181.1 L536.8,183.4 L536.4,185.7 L537.4,187.8 L536.6,190.1 L537.5,192.3 L537.6,194.5 L537.8,196.8 L538.0,199.0 L539.4,201.0 L539.3,203.4 L540.4,205.4 L541.3,207.6 L541.0,210.0 L540.5,212.3 L541.6,214.6 L541.0,216.9 L540.6,219.2 L540.9,221.6 L541.3,223.9 L541.0,226.2 L540.9,228.5 L540.5,230.8 L541.7,233.1 L540.9,235.4 L541.5,237.7 L541.4,240.1 L540.5,242.4 L541.0,244.7 L540.9,247.0 L541.0,249.3 M423.0,254.0 L425.2,254.7 L427.4,255.2 L429.7,254.6 L431.9,255.1 L434.2,255.2 L436.4,255.4 L438.6,256.0 L440.9,255.8 L443.1,256.1 L445.3,256.3 L447.5,257.3 L449.7,257.1 L452.0,257.0 L454.2,257.8 L456.4,258.0 L458.7,256.9 L460.9,257.6 L463.1,258.4 L465.4,258.3 L467.6,257.2 L469.9,257.2 L472.1,257.9 L474.3,257.4 L476.6,257.8 L478.8,257.6 L481.0,258.8 L483.2,259.1 L485.4,259.4 L487.7,258.2 L489.9,259.4 L492.1,259.4 L494.4,258.6 L496.6,260.0 L498.8,260.3 L501.1,259.0 L503.3,260.5 L505.5,259.6 L507.8,259.9 L510.0,260.0 L512.0,261.5 L514.3,261.9 L516.8,261.4 L518.9,262.5 L521.1,263.4 L523.4,263.7 L525.7,264.1 L527.9,265.0 L530.0,266.0 L531.8,267.5 L534.4,267.7 L535.8,269.7 L537.9,270.7 L539.8,272.0 M541.0,249.3 L541.7,251.6 L541.1,253.9 L540.4,256.1 L540.5,258.4 L541.2,260.7 L539.4,262.9 L539.6,265.2 L539.2,267.4 L540.6,269.8 L539.8,272.0 M541.0,249.3 L543.2,248.8 L545.4,248.4 L547.7,249.7 L549.9,248.7 L552.1,248.4 L554.3,248.9 L556.5,249.7 L558.7,249.5 L560.9,248.4 L563.2,248.2 L565.4,249.5 L567.6,248.9 L569.8,249.0 L572.0,247.9 L574.2,247.8 L576.5,248.9 L578.7,248.4 L580.9,247.7 L583.1,249.2 L585.3,248.6 L587.6,248.9 L589.8,247.5 L592.0,248.9 L594.2,247.4 L596.4,248.8 L598.6,248.0 L600.8,247.7 L603.1,248.1 L605.3,248.7 L607.5,247.5 L609.7,247.2 L611.9,247.8 L614.1,247.3 L616.4,247.0 L618.6,247.0 L620.8,247.6 M605.5,179.2 L606.1,181.4 L605.1,183.1 L604.3,184.8 L603.7,186.6 L601.9,188.0 L602.0,190.0 L601.9,191.9 L600.6,193.4 L600.8,195.4 L599.7,196.9 L599.9,198.9 L598.6,200.4 L598.5,202.3 L596.6,203.5 L596.1,205.5 L596.7,207.4 L597.9,209.2 L597.2,211.2 L596.1,213.2 L598.5,215.0 L596.7,217.1 L597.9,218.9 L597.9,220.9 L598.0,222.8 L598.8,224.8 L601.0,225.1 L602.3,226.6 L603.4,228.2 L604.2,230.1 L606.8,230.0 L607.4,232.3 L609.0,233.3 L610.6,234.4 L612.4,235.2 L614.0,236.4 L615.9,237.0 L617.2,238.4 L618.7,239.6 L618.9,242.2 L620.8,243.0 L621.8,244.8 L622.5,246.6 L623.0,248.5 L621.3,250.8 L621.6,252.7 L623.0,254.4 L624.0,256.1 L626.0,256.8 L627.4,258.1 L628.6,259.6 L629.6,261.3 L631.5,262.1 L632.2,264.0 L633.9,265.1 L633.8,267.8 L636.0,268.3 L635.5,270.6 L637.3,272.0 L638.8,273.5 L637.6,276.0 L640.1,277.2 L640.7,279.0 L641.0,281.0 L640.7,283.3 L638.6,283.8 L637.1,284.8 L635.8,286.0 L635.1,287.9 L633.2,288.6 L632.9,290.8 L631.1,291.6 L630.1,293.2 L628.0,293.6 L628.3,295.7 L629.3,297.7 L629.3,299.8 L628.5,301.9 L628.7,303.9 L628.0,306.0 L626.4,307.1 L625.1,308.6 L623.2,309.4 L621.9,311.0 L620.8,312.6 L620.6,314.7 L620.5,316.8 L622.2,318.5 L622.7,320.5 L621.2,322.8 L623.9,324.3 L623.3,326.5 L623.9,328.3 L625.2,329.6 L627.6,330.1 L626.9,332.8 L627.9,334.4 L629.5,335.4 L630.4,337.0 L631.3,338.6 L633.9,338.9 L634.1,341.0 L635.2,342.4 L635.6,344.4 L636.7,345.8 L638.5,346.7 L638.3,348.9 L639.5,350.6 L639.3,352.8 L640.5,354.5 L641.1,356.4 L643.0,357.9 L644.1,359.7 L643.5,362.0 L645.6,362.6 L646.5,364.4 L648.4,365.3 L648.4,368.1 L650.3,368.9 L651.5,370.4 L652.9,371.8 L654.2,373.3 L656.0,374.3 L658.3,374.6 L658.7,377.0 L658.8,379.0 L659.8,380.6 L661.2,382.0 L662.0,383.7 L662.6,385.5 L663.8,387.0 L663.9,389.5 L661.3,390.7 L661.6,393.3 L660.0,395.0 L660.4,397.4 L659.2,399.2 L657.3,400.8 L658.0,403.3 L656.5,405.0 L655.2,406.6 L653.9,408.3 L654.5,410.6 L654.1,412.6 L653.1,414.4 L651.9,416.1 L651.0,417.9 L651.0,420.0 L650.0,421.7 L649.3,423.5 L650.1,425.9 L649.3,427.7 L648.3,429.4 L647.0,431.0 L645.7,432.6 L646.2,434.9 L644.8,436.4 L645.6,438.8 L644.8,440.6 L643.0,442.0 L643.0,444.0 L641.3,445.3 L640.6,447.0 L640.0,448.7 L640.4,450.8 L639.1,452.3 L638.6,454.1 L638.0,455.9 L638.3,457.9 L635.6,458.9 L636.0,461.0 L637.0,462.8 L635.0,464.8 L635.3,466.6 L638.0,468.2 L636.9,470.2 L636.1,472.1 L635.9,474.0 L637.5,475.7 L638.1,477.4 L638.5,479.3 L636.6,481.3 L638.8,482.9 L637.9,484.9 L639.3,486.6 L638.5,488.5 L637.8,490.2 L636.0,491.5 L637.5,494.1 L635.0,495.2 L635.2,497.2 L633.5,498.6 L633.4,500.5 L634.0,502.7 L631.6,503.8 L632.0,506.0 L632.5,508.1 L631.9,509.9 L630.0,511.2 L629.4,513.0 L629.2,514.9 L628.0,516.4 M539.8,272.0 L541.0,274.0 L541.3,276.3 L541.9,278.4 L541.6,280.8 L543.7,282.6 L543.0,285.1 L543.4,287.3 L545.3,289.1 L544.5,291.7 L545.4,293.7 L545.7,296.0 L547.4,297.9 L547.8,300.1 L548.4,302.3 L547.9,304.7 L549.2,306.7 L550.0,308.8 L551.5,310.8 L552.6,312.9 L554.1,314.9 L555.7,316.8 L556.9,318.9 L557.5,321.4 L558.5,323.8 L560.8,325.2 L561.4,327.9 L563.9,329.2 L565.0,331.5 L566.4,333.4 L567.1,335.7 L568.7,337.6 L569.5,339.9 L569.6,342.5 L571.4,344.2 L570.7,346.5 L570.9,348.8 L571.2,351.1 L570.7,353.4 L570.7,355.7 L571.4,357.9 L571.1,360.2 L572.4,362.5 L571.2,364.8 L571.7,367.1 L571.2,369.4 L571.4,371.7 L572.0,374.0 L572.5,376.3 L570.9,378.6 L572.4,380.8 L571.8,383.1 L572.0,385.4 L572.1,387.7 L571.8,390.0 L571.4,392.2 L570.9,394.4 L572.2,396.6 L571.5,398.8 L571.8,401.0 L572.4,403.3 L572.1,405.6 L572.6,407.9 L573.3,410.2 L573.5,412.5 L573.6,414.8 L572.6,417.2 L573.5,419.4 L574.2,421.7 L573.2,424.1 L573.3,426.4 L574.5,428.7 L575.3,430.9 L575.4,433.2 L575.8,435.5 L575.5,437.9 L576.2,440.1 L576.2,442.5 L575.9,444.8 L576.3,447.0 L575.8,449.2 L575.2,451.4 L575.5,453.6 L576.1,455.9 L576.1,458.1 L575.9,460.3 L575.9,462.5 M449.5,322.7 L557.5,325.2 M552.5,312.6 L620.8,311.3 M634.7,268.3 L676.4,266.3 M632.0,181.4 L634.3,181.6 L636.6,182.0 L638.9,182.0 L641.1,182.8 L643.1,184.5 L645.6,183.4 L647.7,184.6 L650.0,185.0 L651.9,186.5 L653.6,188.1 L656.3,188.4 L658.2,189.8 L660.0,191.4 L662.6,192.0 L664.9,193.3 L667.2,194.4 L669.6,195.5 L669.5,198.1 L670.3,200.5 L671.0,202.9 L672.3,205.1 M571.8,401.0 L648.3,398.3 L645.6,409.2 L656.5,405.0 M583.5,476.2 L633.3,474.3 M583.5,476.2 L584.0,480.0 L585.4,482.0 L585.9,484.3 L585.3,486.8 L585.6,489.2 L586.9,491.2 L587.2,493.5 L588.8,495.5 L588.7,498.0 L588.3,500.4 L589.1,502.6 L589.6,504.9 L589.9,507.2 L591.8,509.1 L592.6,511.3 L593.0,513.6 L593.0,516.0 L592.6,518.2 L592.0,520.3 L591.1,522.5 L591.2,524.7 L591.0,526.9 L590.4,529.1 L590.6,531.4 L590.1,533.5 L590.6,535.9 L588.9,537.8 L589.5,540.2 L588.0,542.2 L588.1,544.5 L588.0,546.7 M628.2,516.4 L662.4,515.7 L663.8,524.6 L667.2,532.1 M649.7,429.7 L685.2,428.4 L729.4,422.5 L751.0,420.4 L770.2,422.5 M685.2,428.4 L687.8,506.0 L688.4,526.7 M729.4,422.5 L730.5,424.6 L731.7,426.6 L732.3,428.9 L732.4,431.3 L733.1,433.6 L734.9,435.4 L735.8,437.5 L735.9,440.0 L736.5,442.2 L737.0,444.4 L737.9,446.4 L738.8,448.5 L738.7,450.8 L740.3,452.7 L740.4,455.0 L740.8,457.2 L740.5,459.6 L741.6,461.6 L741.8,463.9 L743.1,465.9 L744.2,467.9 L744.7,470.1 L744.1,472.6 L745.1,474.6 L746.4,476.6 L747.5,478.6 L747.3,481.0 L747.4,483.3 L747.2,485.6 L747.7,487.9 L748.1,490.2 L747.5,492.6 L747.1,494.9 L748.5,497.2 L748.9,499.5 L748.5,501.8 L748.4,504.2 L748.1,506.5 L748.5,508.8 M702.0,512.3 L748.5,508.2 L760.0,512.4 L802.5,510.3 L804.5,504.3 L813.6,505.3 M770.5,422.8 L772.7,423.9 L773.8,426.3 L775.7,427.7 L777.7,428.9 L779.9,430.0 L780.8,432.6 L783.4,433.2 L785.0,435.0 L786.2,437.0 L788.5,437.8 L790.2,439.3 L791.1,441.6 L793.3,442.5 L794.0,444.9 L796.2,445.9 L798.2,447.1 L799.7,448.7 L801.0,450.6 L802.4,452.3 L803.3,454.4 L804.1,456.5 L806.6,457.5 L807.4,459.6 L809.0,461.2 L809.1,463.8 L811.6,464.7 L813.0,466.5 L814.2,468.3 L815.0,470.4 L815.5,472.8 L816.8,474.6 L818.6,476.0 M770.2,422.5 L772.4,418.2 L808.9,411.8 L813.2,416.1 L834.7,414.0 L851.9,426.8 M684.0,283.5 L683.7,285.7 L683.4,288.0 L683.7,290.2 L684.9,292.3 L685.4,294.5 L684.2,296.8 L684.7,299.0 L686.1,301.1 L685.1,303.4 L685.8,305.6 L686.0,307.8 L686.2,310.0 L686.7,312.2 L687.1,314.4 L686.8,316.7 L686.8,318.9 L685.9,321.2 L687.5,323.3 L686.2,325.6 L687.7,327.7 L687.6,329.9 L686.9,332.2 L687.1,334.4 L687.8,336.6 L687.4,338.9 L687.5,341.4 L686.3,343.6 L685.9,345.9 L684.4,348.0 L685.2,350.6 L684.4,352.9 L682.9,355.0 L683.9,357.6 L682.7,359.8 L681.5,362.0 L681.5,364.4 L680.0,366.4 L680.1,369.1 L679.0,371.3 L677.9,373.4 L675.5,374.9 L675.5,377.6 L674.0,379.6 L671.7,380.7 L669.5,382.0 L668.1,384.3 L666.1,385.9 L663.8,387.0 M684.0,281.0 L727.3,277.5 L748.0,274.7 M727.3,277.5 L732.6,338.8 M663.8,387.0 L665.9,385.9 L666.9,383.8 L667.9,381.8 L670.0,380.6 L670.9,378.5 L672.3,376.8 L673.4,374.8 L675.9,374.1 L677.6,372.6 L678.7,370.6 L680.0,368.8 L682.4,368.9 L684.1,366.7 L686.3,366.4 L688.6,366.2 L691.0,366.4 L693.1,365.7 L695.0,364.1 L697.1,363.3 L699.3,362.9 L701.5,362.4 L703.6,361.3 L706.1,360.9 L707.6,358.6 L710.0,358.0 L712.1,356.7 L713.8,354.9 L715.6,353.3 L717.3,351.6 L718.7,349.5 L720.4,347.5 L721.6,345.0 L723.2,342.9 L725.0,340.9 L727.5,340.0 L730.2,340.0 L732.6,338.8 L733.6,336.2 L735.9,334.5 L738.3,335.1 L740.0,337.1 L742.6,337.3 L744.5,338.8 L747.0,338.3 L749.5,338.6 L751.8,339.8 L754.3,339.7 L756.6,341.2 L759.1,341.4 L761.6,341.0 L763.6,342.4 L766.0,341.6 L768.2,341.8 L770.2,343.0 L772.7,343.5 L774.5,345.2 L775.3,343.0 L776.5,341.0 L776.8,338.7 L777.3,336.4 L778.4,334.4 L779.6,332.4 L780.5,330.3 L781.0,328.0 L783.0,326.6 L784.9,325.0 L786.4,323.0 L787.4,320.6 L789.6,319.4 L791.5,318.1 L792.3,315.7 L794.1,314.3 L795.3,312.4 L797.0,310.8 L797.4,308.4 L796.5,306.0 L796.5,303.6 L796.5,301.1 L796.4,298.7 L797.7,296.3 L797.1,293.9 L797.0,291.5 M793.6,263.3 L797.4,290.0 L800.3,309.7 M800.3,309.7 L817.5,307.6 L832.5,305.5 L879.8,295.8 M772.4,347.3 L774.0,349.0 L775.2,351.0 L775.7,353.5 L777.7,354.9 L779.5,356.5 L780.0,358.9 L781.5,360.7 L783.1,362.4 L784.9,364.3 L787.7,363.9 L789.6,365.6 L791.7,366.7 L794.1,366.1 L796.3,365.1 L798.5,364.1 L799.9,361.6 L802.3,361.0 L804.6,360.2 L806.4,358.2 L808.6,356.9 L811.0,356.0 L812.5,354.1 L812.4,351.7 L813.7,349.8 L813.4,347.3 L814.9,345.4 L814.8,343.1 L815.1,340.8 L816.7,338.9 L817.6,336.9 L817.5,334.5 L817.9,332.0 L819.8,330.3 L820.9,328.1 L821.3,325.7 L822.7,323.6 L823.4,321.3 L824.5,319.2 L826.1,317.3 L827.5,315.3 L829.7,314.0 L831.5,312.3 L832.6,310.0 L834.7,308.7 L837.3,307.6 L840.0,307.8 L842.8,308.2 L845.4,307.6 L848.1,309.4 L850.0,312.0 L851.7,313.8 L853.2,315.6 L853.7,318.2 L855.5,319.9 L857.6,321.3 L858.3,323.7 L860.4,322.4 L862.7,322.4 L865.0,322.0 M817.5,307.6 L814.0,318.0 L807.0,322.0 M783.1,362.4 L781.3,364.1 L779.5,365.7 L778.5,368.1 L776.6,369.7 L774.5,371.0 L772.4,372.3 L770.9,374.3 L769.1,376.1 L767.2,377.7 L764.6,378.4 L763.5,380.9 L761.3,382.2 L759.5,383.9 M656.5,395.5 L682.5,395.5 L683.9,391.4 L700.0,390.0 L759.5,383.9 L793.9,380.6 L840.0,373.0 L886.0,363.2 M793.9,380.6 L792.8,382.7 L791.4,384.6 L789.5,386.1 L788.0,387.9 L787.4,390.3 L785.4,391.6 L783.3,393.0 L780.8,393.2 L779.0,395.1 L777.1,396.5 L774.5,396.8 L772.5,398.1 L771.8,400.5 L769.8,401.8 L769.0,404.0 L766.9,405.3 L766.0,407.5 L764.2,408.8 L762.6,410.4 L760.9,411.9 L758.5,412.3 L756.6,413.4 L754.5,414.2 L753.0,416.0 L752.7,418.5 L751.0,420.4 M878.0,294.2 L882.5,322.5 L893.1,322.5 M885.3,258.2 L884.0,260.6 L883.4,263.4 L882.1,265.8 L882.3,268.3 L883.2,270.7 L882.8,273.3 L884.6,274.7 L885.7,276.7 L886.6,278.9 L889.2,279.6 L890.1,281.8 L891.6,283.5 L889.6,285.0 L887.8,286.7 L887.3,289.5 L885.3,291.0 L883.9,293.1 L881.1,293.6 L879.8,295.8 M803.7,259.6 L860.0,249.3 L872.6,246.8 L879.0,250.6 L885.3,258.2 L903.0,264.5 M877.8,179.7 L889.0,177.0 L894.1,200.0 L901.7,222.8 M901.7,222.8 L901.7,237.9 L904.9,259.4 M917.0,165.7 L915.8,167.9 L916.3,170.3 L916.8,172.7 L914.9,174.7 L915.5,177.2 L914.2,179.3 L914.4,181.7 L913.6,183.9 L914.5,186.4 L913.0,188.5 L913.7,190.9 L913.0,193.2 L911.9,195.3 L911.6,197.6 L911.8,200.0 L912.5,202.2 L912.6,204.5 L912.4,206.7 L912.3,209.0 L912.7,211.2 L913.3,213.4 L913.3,215.7 L912.6,218.0 L913.1,220.2 M901.7,223.4 L913.1,220.2 L935.9,212.6 M901.7,237.9 L934.6,231.6 L935.9,239.2 M928.3,233.5 L931.4,246.8 M921.0,164.4 L938.7,206.3" fill="none" stroke="#666a6e" stroke-width="0.8" stroke-linejoin="round"/>
<g clip-path="url(#land)" fill="none" stroke="#667080" stroke-width="1.45">
<path d="M40.0,236.0 C49.8,235.6 80.5,235.4 99.0,233.7 C117.5,232.0 135.2,227.9 150.7,226.0 C166.2,224.1 181.7,222.5 192.0,222.0 C202.3,221.5 201.8,220.4 212.5,222.8 C223.2,225.2 240.3,230.4 256.0,236.7 C271.7,243.0 293.9,254.6 306.6,260.7 C319.3,266.8 323.6,267.7 332.0,273.0 C340.4,278.3 348.6,284.2 357.0,292.3 C365.4,300.4 374.0,311.9 382.5,321.4 C391.0,330.8 401.6,342.1 407.8,349.0 C414.1,355.9 413.4,356.3 420.0,362.7 C426.6,369.1 438.2,379.6 447.3,387.3 C456.4,395.1 465.6,402.4 474.7,409.2 C483.8,416.0 492.9,422.9 502.0,428.4 C511.1,433.9 520.7,438.6 529.4,442.0 C538.1,445.4 544.9,448.4 554.0,448.9 C563.1,449.4 574.4,447.3 584.0,444.8 C593.6,442.3 602.3,438.8 611.4,433.8 C620.5,428.8 629.7,421.5 638.8,414.7 C647.9,407.9 657.8,399.6 666.0,392.8 C674.2,386.0 682.1,378.8 688.0,373.7 C693.9,368.6 697.1,367.9 701.5,362.4 C705.9,356.9 710.8,349.1 714.4,340.9 C718.0,332.7 721.0,321.5 723.0,313.0 C725.0,304.5 725.6,296.8 726.6,290.0 C727.6,283.2 728.0,279.0 729.0,272.2 C730.0,265.4 731.6,255.9 732.9,249.4 C734.2,242.9 735.4,237.6 736.7,233.0 C738.1,228.4 739.8,225.8 741.0,222.0 C742.2,218.2 742.5,215.3 744.0,210.0 C745.5,204.7 747.3,200.0 750.0,190.0 C752.7,180.0 758.3,156.7 760.0,150.0"/>
<path d="M135.5,399.0 C135.8,385.9 136.0,337.4 137.0,320.2 C138.0,303.0 138.3,302.1 141.6,296.0 C144.9,289.9 150.2,286.4 156.8,283.8 C163.4,281.2 171.9,281.2 181.0,280.7 C190.1,280.2 198.9,279.1 211.4,280.7 C223.9,282.2 244.3,285.8 256.0,290.0 C267.6,294.2 272.9,299.9 281.3,306.0 C289.7,312.1 298.2,319.7 306.6,326.5 C315.1,333.3 323.6,339.9 332.0,346.7 C340.4,353.4 350.3,361.3 357.0,367.0 C363.7,372.7 366.1,375.5 372.0,381.0 C377.9,386.5 382.9,388.3 392.6,400.0 C402.3,411.7 421.2,438.9 430.0,451.4 C438.8,463.9 440.1,467.2 445.2,474.9 C450.2,482.6 455.2,490.6 460.3,497.7 C465.4,504.8 470.4,511.8 475.5,517.4 C480.6,522.9 485.6,526.7 490.7,531.0 C495.8,535.3 500.3,539.9 505.9,543.2 C511.5,546.5 517.6,548.5 524.1,550.8 C530.6,553.1 538.7,555.3 545.0,557.0 C551.3,558.7 554.5,555.5 562.0,561.0 C569.5,566.5 585.3,585.2 590.0,590.0"/>
<path d="M877.8,179.7 C876.6,183.1 874.7,187.9 870.5,200.0 C866.3,212.1 856.6,240.3 852.4,252.0 C848.2,263.7 849.1,260.6 845.4,270.0 C841.7,279.4 836.5,293.7 830.4,308.7 C824.3,323.7 816.2,345.9 809.0,360.2 C801.8,374.5 794.1,385.0 787.4,394.6 C780.7,404.2 775.0,410.1 768.9,417.7 C762.8,425.3 755.9,434.1 751.0,440.0 C746.1,445.9 750.0,442.4 739.7,453.0 C729.4,463.6 706.3,488.1 689.0,503.7 C671.7,519.3 649.2,534.8 636.0,546.7 C622.8,558.6 614.3,570.3 610.0,575.0"/>
</g>
<path d="M139.8,83.3 L141.0,85.0 L143.4,85.3 L144.5,87.2 L145.9,88.7 L148.1,89.1 L149.3,90.9 L151.0,92.0 L153.3,91.6 L155.0,92.9 L156.9,93.5 L158.7,94.2 L160.7,94.7 L161.6,96.5 L162.1,98.5 L162.6,100.4 L164.5,102.3 L162.9,103.7 L161.6,105.4 L159.8,106.6 L158.6,108.4 L157.0,109.8 L156.8,112.0 L157.0,114.4 L156.0,116.5 L158.1,116.4 L160.2,116.0 L162.3,115.4 L164.5,115.5 L165.5,113.1 L166.2,110.6 L166.4,108.0 L167.7,106.4 L168.7,104.6 L170.3,103.4 L171.2,101.5 L173.0,100.4 L172.3,98.3 L172.6,96.1 L172.0,93.9 L172.4,91.7 L172.4,89.5 L171.5,87.4 L172.1,85.2 L171.7,82.9 L170.2,80.9 L170.2,78.5 L200.0,86.7 L230.0,94.5 L250.0,99.0 L262.0,102.0 L300.0,109.8 L345.0,117.5 L390.0,123.6 L433.0,127.8 L470.0,130.3 L512.0,131.6 L540.0,131.8 L560.0,131.5 L560.4,129.2 L560.4,126.8 L560.0,124.5 L562.5,124.8 L565.0,125.0 L565.8,126.9 L565.3,129.0 L565.7,131.0 L565.0,133.1 L566.4,135.0 L566.0,137.0 L568.1,137.8 L570.1,138.2 L572.3,138.0 L574.4,138.4 L576.6,137.7 L578.6,139.1 L580.8,138.5 L582.8,139.5 L585.0,139.0 L586.6,140.4 L588.9,140.2 L590.5,141.8 L592.2,142.8 L594.6,142.5 L596.3,143.7 L598.0,145.0 L600.0,145.5 L602.2,145.7 L603.8,147.5 L606.1,147.3 L607.8,148.7 L610.2,148.5 L612.0,149.7 L614.0,150.4 L616.1,151.0 L618.2,150.0 L620.2,150.0 L622.3,150.4 L624.4,150.1 L626.5,149.7 L628.5,149.9 L630.6,149.9 L632.7,151.1 L634.8,150.7 L636.8,151.0 L638.9,149.9 L641.0,150.4 L642.3,148.3 L642.2,145.8 L643.6,143.8 L644.6,141.6 L645.3,139.3 L646.9,137.9 L649.1,137.3 L650.5,135.7 L652.3,134.5 L654.2,133.7 L655.3,131.5 L657.8,131.3 L659.2,129.7 L660.8,128.3 L662.8,128.3 L664.8,129.1 L666.9,128.5 L668.8,129.8 L670.9,129.3 L672.9,129.2 L674.9,130.0 L676.9,129.7 L679.0,129.5 L680.9,130.5 L683.0,129.6 L685.0,130.5 L686.5,131.9 L688.7,132.3 L690.1,133.8 L691.6,135.3 L693.7,135.8 L695.4,136.9 L697.4,137.5 L699.4,138.1 L701.1,139.2 L702.8,140.4 L704.2,142.0 L706.1,142.8 L707.7,144.0 L709.5,145.0 L709.6,147.2 L711.3,148.9 L711.8,151.0 L711.9,153.2 L713.4,155.0 L714.1,157.0 L714.0,159.3 L714.4,161.5 L714.9,163.7 L714.7,166.0 L714.7,168.2 L716.4,169.5 L717.3,171.5 L718.8,173.0 L720.8,173.5 L722.9,173.7 L723.8,175.9 L723.7,178.3 L724.3,180.5 L726.1,181.6 L728.2,182.3 L729.7,183.9 L732.0,184.9 L734.5,184.6 L736.7,183.6 L738.9,182.9 L741.1,182.2 L743.6,182.4 L745.9,182.1 L748.0,181.0 L750.1,181.1 L752.1,180.1 L754.2,179.6 L756.2,178.8 L758.4,179.4 L760.4,178.9 L762.5,178.5 L764.8,178.4 L767.1,178.9 L769.4,178.7 L771.6,179.6 L773.9,179.3 L776.2,179.1 L777.9,180.5 L778.5,182.8 L780.8,183.6 L781.6,185.7 L783.0,187.3 L784.5,189.1 L786.1,190.9 L787.7,192.7 L788.2,195.2 L789.9,196.9 L792.2,197.7 L793.5,199.7 L795.4,201.0 L793.5,202.3 L793.1,204.8 L791.6,206.5 L789.9,207.9 L787.8,207.2 L785.5,206.8 L783.4,206.0 L781.3,205.2 L779.0,205.1 L776.8,203.6 L775.1,201.6 L773.5,199.6 L771.5,199.1 L769.4,198.6 L768.0,196.6 L766.0,195.9 L763.9,195.5 L765.6,196.7 L767.9,196.7 L769.4,198.3 L770.4,200.4 L771.8,202.2 L773.5,203.8 L773.3,206.0 L772.6,208.1 L772.7,210.3 L772.8,212.6 L772.1,214.7 L771.8,216.9 L770.8,218.7 L770.3,220.7 L769.0,222.5 L768.0,224.3 L767.8,226.6 L768.1,228.8 L768.1,231.1 L768.5,233.3 L769.3,235.5 L769.1,237.8 L769.4,240.0 L768.3,243.1 L766.4,243.8 L764.2,243.9 L762.4,244.9 L760.4,245.6 L761.0,247.7 L760.6,249.9 L761.0,252.0 L760.6,254.3 L761.9,256.4 L761.2,258.7 L762.0,260.8 L763.8,259.3 L766.1,258.8 L768.3,258.3 L769.9,256.7 L772.1,256.1 L774.1,255.0 L775.8,253.5 L777.2,251.7 L779.5,251.1 L781.0,249.4 L783.1,249.0 L785.3,248.7 L787.5,249.5 L789.6,248.9 L791.7,248.8 L793.9,248.6 L796.0,248.2 L798.3,247.8 L799.8,246.0 L802.0,245.4 L803.8,244.2 L805.8,243.3 L807.5,241.8 L810.0,241.3 L812.6,241.3 L815.0,240.6 L814.1,238.8 L812.7,237.2 L811.6,235.5 L811.2,233.4 L810.0,231.7 L807.9,232.6 L805.5,231.6 L803.5,233.0 L801.2,232.7 L800.5,230.3 L801.2,228.0 L802.7,226.5 L805.0,226.6 L806.4,224.8 L808.0,223.5 L810.0,223.0 L811.4,221.4 L813.2,220.4 L815.4,220.3 L817.2,219.2 L819.0,218.3 L820.8,217.3 L822.0,215.4 L824.2,215.1 L825.8,213.8 L827.9,213.4 L829.7,212.4 L831.2,211.0 L833.3,210.7 L834.6,208.7 L836.9,208.9 L838.7,208.1 L840.6,207.3 L841.8,205.3 L843.9,205.0 L845.8,203.7 L847.9,202.6 L850.0,201.6 L852.4,201.3 L854.1,199.8 L855.3,198.0 L856.3,196.1 L857.8,194.5 L858.9,192.5 L859.7,190.4 L860.7,188.5 L862.0,186.7 L864.1,185.5 L865.0,183.5 L867.0,182.4 L869.2,182.0 L871.4,181.5 L873.3,180.3 L875.6,180.0 L877.8,179.7 L879.7,178.9 L881.9,179.1 L883.8,178.1 L885.7,177.6 L888.0,178.0 L889.8,176.9 L891.9,176.9 L893.8,176.1 L895.6,174.8 L897.8,174.9 L899.8,174.5 L901.9,174.5 L903.7,173.4 L905.9,173.4 L907.8,172.7 L909.7,171.8 L911.9,172.3 L913.7,170.7 L915.8,170.8 L916.7,168.8 L916.1,166.4 L917.0,164.4 L918.3,162.3 L920.3,161.1 L922.6,160.3 L924.7,159.0 L926.0,157.0 L925.5,154.9 L926.5,152.9 L926.8,150.9 L927.5,148.9 L926.9,146.8 L927.6,144.8 L927.6,142.7 L928.6,140.8 L928.0,138.7 L929.3,136.8 L928.6,134.6 L928.8,132.5 L929.8,130.6 L929.7,128.5 L930.0,126.5 L930.2,124.2 L931.7,122.4 L931.7,120.1 L933.4,118.4 L934.0,116.3 L934.9,114.3 L935.4,112.1 L936.0,110.0 L938.0,109.5 L940.0,109.3 L942.0,109.0 L944.1,109.4 L945.9,108.0 L948.1,108.9 L950.0,108.0 L951.9,109.4 L953.0,111.4 L954.3,113.3 L954.8,115.7 L956.7,117.2 L958.0,119.0 L958.8,121.0 L958.7,123.3 L960.3,125.1 L960.6,127.2 L961.1,129.3 L961.5,131.5 L962.1,133.6 L962.9,135.6 L963.9,137.5 L964.6,139.6 L965.0,141.7 L967.3,142.5 L968.7,144.6 L970.9,145.7 L973.0,146.7 L974.5,148.2 L976.6,148.7 L978.1,150.3 L979.4,151.9 L981.3,152.9 L983.0,154.0 L981.5,155.8 L979.4,156.7 L977.3,157.5 L976.0,159.6 L974.3,160.9 L972.4,162.1 L970.4,163.2 L968.9,164.7 L967.5,166.3 L967.0,168.6 L965.7,170.3 L964.4,171.9 L962.8,173.4 L961.5,175.1 L959.7,176.4 L958.6,178.3 L956.9,179.7 L955.2,181.0 L953.8,182.6 L951.4,182.9 L949.9,184.5 L948.8,186.5 L946.3,186.7 L945.0,188.5 L944.5,190.8 L943.2,192.7 L941.3,194.3 L940.6,196.5 L940.0,198.7 L939.0,200.5 L938.8,202.5 L938.6,204.5 L937.5,206.3 L937.6,208.4 L938.7,210.4 L938.4,212.6 L940.6,214.2 L942.2,216.4 L941.5,218.6 L941.2,220.9 L939.7,222.8 L941.4,224.3 L942.5,226.3 L944.2,227.7 L946.0,229.1 L947.2,231.6 L948.5,234.1 L951.1,233.9 L953.6,233.2 L956.1,232.9 L956.2,230.8 L957.4,229.1 L955.8,227.7 L953.9,226.7 L952.3,225.3 L954.1,226.3 L956.1,226.6 L956.8,229.4 L958.6,231.6 L957.0,233.0 L955.2,234.0 L953.6,235.4 L951.6,236.8 L950.3,238.9 L948.5,240.5 L946.0,241.3 L943.4,241.0 L940.9,241.7 L938.9,242.5 L937.3,243.9 L935.9,245.5 L933.7,246.1 L931.4,246.7 L929.5,248.1 L927.4,248.3 L925.4,248.9 L923.5,249.7 L921.5,250.4 L919.4,250.6 L917.2,251.7 L915.5,253.6 L913.1,254.4 L911.5,255.8 L909.4,256.6 L908.0,258.2 L906.5,259.6 L905.3,261.2 L904.5,263.2 L903.0,264.5 L902.1,266.3 L901.0,268.1 L899.8,269.7 L899.0,271.6 L897.9,273.3 L900.5,275.9 L901.1,278.1 L901.6,280.3 L903.0,282.2 L903.5,284.4 L902.8,286.6 L902.6,288.8 L903.0,291.0 L902.7,293.5 L902.0,296.0 L900.2,297.8 L898.4,299.5 L896.6,301.5 L896.7,304.5 L894.9,306.5 L893.9,308.7 L893.1,311.0 L891.0,310.1 L889.8,308.0 L888.2,306.5 L886.0,305.7 L884.3,303.4 L882.5,301.2 L883.5,303.3 L883.2,305.6 L883.7,307.8 L884.2,310.0 L885.8,311.6 L887.7,312.7 L889.4,314.2 L891.3,315.4 L891.4,317.9 L892.5,320.1 L893.1,322.5 L892.9,324.6 L891.7,326.6 L892.4,328.9 L891.4,330.9 L891.3,333.1 L891.0,335.2 L889.9,337.1 L890.3,339.3 L888.6,341.0 L889.0,343.3 L888.9,345.4 L887.8,347.3 L887.2,349.3 L886.0,351.0 L884.0,348.0 L883.3,345.9 L882.2,343.8 L882.2,341.5 L881.7,339.4 L881.5,337.1 L880.7,335.0 L879.8,332.9 L879.0,330.9 L878.3,328.7 L878.4,326.4 L878.0,324.2 L876.8,322.2 L875.7,320.3 L875.4,318.0 L875.6,316.0 L874.8,314.0 L874.4,312.0 L874.0,310.1 L874.8,308.0 L874.7,306.0 L874.0,304.0 L871.9,303.0 L870.5,305.2 L869.5,307.7 L868.3,310.0 L868.5,312.0 L869.2,314.0 L868.4,316.2 L869.5,318.1 L869.4,320.2 L869.4,322.2 L870.1,324.2 L870.4,326.4 L871.7,328.2 L872.7,330.2 L873.1,332.3 L874.4,334.1 L874.2,336.5 L875.4,338.4 L876.5,340.4 L876.7,342.7 L878.4,344.5 L879.1,346.6 L880.2,348.6 L880.7,350.8 L882.5,351.9 L884.5,352.7 L886.0,354.3 L887.7,356.1 L887.8,358.7 L889.5,360.6 L890.6,362.7 L891.3,365.0 L892.6,367.0 L893.4,369.2 L894.6,371.3 L895.4,373.6 L896.6,375.6 L897.6,378.1 L899.2,380.2 L900.2,382.7 L899.8,385.1 L900.2,387.4 L901.0,389.7 L900.2,391.9 L898.0,393.0 L896.6,394.7 L895.4,396.6 L894.9,398.9 L893.1,400.4 L891.0,401.4 L889.4,403.0 L888.2,405.2 L886.4,406.6 L884.2,407.4 L882.0,408.3 L880.5,410.1 L879.2,412.0 L877.5,413.5 L875.4,414.5 L874.0,416.3 L872.1,417.6 L869.8,418.3 L868.3,420.0 L867.5,422.3 L866.8,424.6 L865.4,426.6 L863.3,426.7 L861.5,427.5 L859.9,429.0 L857.6,428.6 L855.8,429.6 L854.0,430.4 L852.6,432.0 L851.6,433.9 L850.2,435.5 L849.3,437.4 L848.1,439.1 L847.9,441.4 L846.4,443.0 L844.9,444.4 L843.8,446.1 L842.3,447.5 L841.4,449.4 L839.6,450.6 L838.8,452.5 L837.8,454.3 L836.3,455.7 L834.9,457.4 L833.2,458.9 L831.2,459.9 L829.9,461.8 L827.8,462.7 L826.4,464.5 L824.4,465.5 L822.7,466.9 L821.0,468.3 L820.3,470.2 L819.2,471.9 L819.8,474.2 L818.0,475.7 L817.9,477.8 L817.2,479.7 L816.4,481.5 L816.0,483.5 L814.9,485.5 L815.0,487.9 L814.3,490.0 L813.6,492.1 L812.8,494.1 L813.9,496.2 L813.0,498.2 L812.8,500.2 L813.6,502.3 L812.6,504.3 L812.6,506.3 L812.8,508.4 L813.0,510.5 L814.3,512.3 L814.6,514.4 L815.2,516.8 L817.0,518.4 L818.3,520.4 L819.0,522.8 L820.7,524.5 L822.4,525.8 L822.7,528.1 L824.0,529.8 L825.5,531.3 L826.0,533.4 L827.8,534.8 L828.8,536.6 L830.2,538.3 L831.4,540.0 L832.5,541.9 L834.5,543.1 L835.5,545.0 L836.8,546.7 L837.9,548.4 L838.8,550.3 L839.4,552.3 L841.1,553.6 L841.4,555.8 L843.0,557.3 L843.9,559.1 L844.9,560.9 L846.2,562.5 L846.9,564.4 L847.3,566.5 L848.7,568.1 L849.6,569.9 L851.2,571.3 L852.2,573.1 L853.0,575.0 L853.7,577.0 L853.6,579.1 L853.9,581.1 L854.1,583.2 L855.6,585.0 L854.9,587.2 L855.1,589.3 L856.0,591.2 L855.9,593.2 L856.7,595.3 L856.3,597.3 L856.7,599.3 L856.5,601.3 L855.4,603.4 L856.0,605.4 L855.2,607.4 L854.6,609.4 L853.8,611.3 L853.0,613.3 L853.0,615.5 L850.9,616.3 L848.9,617.3 L846.8,618.3 L844.9,619.5 L843.0,618.6 L840.9,618.0 L838.9,617.5 L837.6,615.9 L835.7,614.9 L834.7,613.0 L833.1,611.8 L832.0,610.0 L829.8,609.3 L828.8,607.4 L827.0,606.0 L825.4,604.4 L824.7,601.9 L823.4,600.1 L821.7,598.6 L819.9,597.2 L818.6,595.3 L817.8,593.4 L816.5,591.8 L815.1,590.4 L813.5,589.0 L812.6,587.2 L811.3,585.6 L810.5,583.7 L809.3,582.0 L808.5,580.2 L807.7,578.2 L807.1,576.2 L804.9,575.1 L804.5,573.0 L803.6,570.9 L801.8,569.3 L800.9,567.2 L800.8,564.7 L799.5,562.9 L798.4,560.9 L798.7,558.8 L797.7,556.9 L796.7,555.0 L796.9,552.9 L796.9,550.8 L796.4,548.8 L795.6,546.7 L794.3,545.0 L792.3,543.7 L790.9,542.1 L789.2,540.7 L788.3,538.6 L786.8,536.8 L784.8,535.7 L783.1,534.2 L781.3,532.7 L780.2,530.6 L777.8,530.0 L776.3,527.9 L773.8,527.4 L772.5,525.1 L770.1,524.5 L768.8,526.2 L766.4,526.3 L765.4,528.4 L763.8,529.7 L761.5,530.0 L760.0,531.4 L758.4,533.1 L756.1,533.9 L754.7,535.9 L752.6,536.9 L750.2,537.1 L748.1,535.6 L745.8,535.5 L744.2,533.5 L742.5,531.5 L740.3,530.1 L738.5,527.8 L736.2,526.0 L733.8,526.1 L731.7,524.9 L729.4,524.6 L726.7,523.9 L723.9,523.9 L721.8,523.8 L719.9,522.9 L717.7,523.7 L715.7,523.2 L713.3,523.0 L711.1,523.8 L708.9,524.6 L706.8,526.0 L704.5,526.7 L702.0,526.7 L699.7,526.7 L697.4,526.6 L695.2,527.3 L693.1,528.4 L690.7,528.5 L688.4,528.7 L686.2,527.9 L683.7,528.3 L681.5,527.3 L679.1,527.2 L677.0,528.3 L674.7,528.7 L673.2,530.2 L671.1,530.7 L669.2,531.4 L667.8,533.4 L666.5,535.5 L666.6,537.5 L666.5,539.6 L666.9,542.4 L667.9,545.1 L669.9,546.1 L671.0,548.2 L673.1,549.1 L674.7,550.6 L676.6,552.8 L678.8,554.7 L677.4,557.4 L675.7,556.3 L673.7,555.7 L672.0,554.7 L670.1,553.5 L668.6,551.6 L666.5,550.6 L663.6,550.7 L661.0,552.0 L658.3,554.7 L655.4,555.3 L652.8,556.7 L650.7,556.8 L648.7,557.4 L646.7,557.9 L644.6,557.4 L642.9,555.7 L640.6,555.1 L638.7,553.9 L636.4,553.3 L635.3,551.6 L634.7,549.6 L633.7,547.9 L631.7,546.3 L629.3,545.6 L626.8,545.1 L624.6,544.5 L622.2,544.5 L620.0,543.8 L617.8,544.1 L615.6,543.6 L613.5,544.6 L611.3,544.3 L609.2,544.6 L606.9,544.3 L604.8,544.7 L602.7,545.6 L600.5,545.5 L598.5,546.4 L596.4,546.3 L594.3,546.2 L592.2,546.2 L590.0,546.0 L588.0,546.7 L586.0,546.1 L584.0,547.4 L582.0,546.2 L580.0,546.7 L577.8,547.5 L575.7,548.7 L573.9,550.3 L572.2,551.9 L570.0,552.8 L568.0,554.1 L566.5,555.8 L565.0,557.5 L563.2,558.9 L562.0,561.0 L560.4,562.3 L558.9,563.8 L556.8,564.4 L554.9,565.2 L553.7,567.1 L551.5,567.5 L550.0,569.0 L547.9,569.3 L546.6,571.1 L544.5,571.5 L542.6,572.3 L541.0,573.5 L539.3,574.7 L537.5,575.6 L535.3,575.8 L533.7,577.0 L531.9,578.1 L530.9,580.0 L529.8,581.8 L527.6,582.5 L526.2,584.0 L525.3,586.0 L523.6,587.2 L523.0,589.2 L522.1,591.1 L521.7,593.1 L521.7,595.3 L521.4,597.3 L520.7,599.3 L520.9,601.5 L520.4,603.5 L519.5,605.4 L520.6,607.3 L520.4,609.5 L521.5,611.4 L521.8,613.5 L522.7,615.5 L523.1,617.5 L524.3,619.4 L525.0,621.4 L524.3,623.8 L525.6,625.6 L523.7,627.3 L521.6,628.6 L519.4,628.5 L517.6,627.2 L515.7,626.3 L513.3,626.6 L511.5,625.3 L509.4,625.1 L507.4,624.2 L505.4,623.6 L503.1,623.5 L501.1,622.7 L499.6,620.6 L497.5,620.0 L495.3,619.8 L493.3,618.9 L491.1,618.6 L489.2,617.5 L488.8,615.3 L487.5,613.5 L487.4,611.2 L486.3,609.3 L485.5,607.2 L484.9,605.1 L483.1,603.5 L482.0,601.6 L481.4,599.5 L481.0,597.3 L479.6,595.5 L478.4,593.5 L477.4,591.5 L477.1,589.2 L476.5,587.0 L475.0,585.2 L473.8,583.4 L473.3,581.2 L472.2,579.5 L470.0,578.3 L469.6,576.1 L468.2,574.5 L466.7,572.9 L466.7,570.4 L465.0,569.0 L463.8,567.4 L463.3,565.4 L462.5,563.5 L462.0,561.5 L460.7,559.9 L459.4,558.3 L458.6,556.4 L457.3,554.8 L456.8,552.8 L455.5,550.8 L453.8,549.3 L451.3,548.8 L449.4,547.6 L447.9,545.9 L446.3,544.3 L444.7,542.7 L442.7,541.9 L440.7,541.7 L438.7,541.5 L436.5,542.5 L434.6,541.2 L432.6,541.1 L430.6,540.9 L428.6,540.2 L426.5,540.7 L425.8,542.7 L424.5,544.3 L422.5,545.3 L421.1,546.8 L420.4,548.8 L418.6,550.2 L417.4,552.2 L415.5,553.5 L413.7,554.9 L412.4,556.8 L410.3,556.3 L408.7,555.0 L406.9,554.1 L405.0,553.3 L403.5,551.8 L401.5,551.2 L399.8,550.1 L398.2,548.8 L396.3,547.4 L395.5,545.1 L393.3,544.0 L392.6,541.6 L390.6,540.4 L388.9,538.8 L388.0,536.6 L388.3,534.5 L386.9,532.6 L387.6,530.4 L387.2,528.4 L386.9,526.4 L386.0,524.5 L384.4,523.2 L383.5,521.3 L381.9,520.0 L381.7,517.6 L380.0,516.4 L378.8,514.5 L377.1,513.2 L375.4,511.8 L373.7,510.4 L372.7,508.4 L370.9,507.2 L369.5,505.5 L367.5,504.5 L366.0,502.8 L364.8,501.0 L363.0,499.7 L362.5,497.5 L361.0,496.0 L359.2,494.7 L358.7,492.3 L357.0,491.0 L356.0,489.0 L353.9,489.4 L351.8,489.2 L349.8,489.7 L347.7,489.6 L345.6,488.8 L343.5,489.6 L341.4,489.9 L339.3,489.5 L337.2,489.8 L335.1,489.0 L333.1,490.2 L331.0,489.0 L328.9,490.4 L326.8,489.8 L325.6,491.5 L325.3,493.5 L325.3,495.6 L324.3,497.4 L322.3,497.1 L320.3,497.0 L318.3,496.7 L316.3,496.4 L314.3,495.8 L312.5,494.5 L310.4,494.9 L308.5,493.9 L306.4,493.7 L304.2,494.6 L302.3,494.0 L300.4,492.8 L298.2,493.8 L296.3,492.5 L294.2,492.8 L292.3,491.5 L290.1,492.6 L288.2,491.1 L286.1,491.5 L284.0,491.5 L282.0,491.4 L280.1,489.9 L278.0,490.1 L276.0,489.8 L273.8,489.4 L272.0,488.1 L270.2,486.6 L267.8,486.7 L266.0,485.3 L263.8,485.0 L261.8,484.1 L260.2,482.4 L258.1,481.6 L256.0,481.0 L254.0,480.3 L252.2,479.4 L250.5,478.3 L249.2,476.6 L247.4,475.6 L245.5,474.8 L243.7,473.8 L242.3,472.2 L240.7,471.0 L239.0,469.8 L237.1,469.0 L235.1,468.5 L233.3,467.6 L232.1,465.6 L230.1,465.0 L228.6,463.5 L226.4,463.3 L225.2,461.2 L223.1,460.7 L221.8,459.0 L220.1,457.9 L218.1,457.3 L216.0,456.8 L215.0,454.6 L212.9,454.1 L211.2,453.0 L212.8,451.5 L213.1,449.3 L214.5,447.7 L212.4,448.0 L210.5,446.9 L208.4,447.5 L206.4,447.6 L204.4,447.2 L202.4,446.7 L200.3,447.4 L198.3,446.5 L196.3,446.5 L194.3,446.2 L192.2,446.7 L190.2,445.7 L188.2,445.4 L186.2,445.2 L184.1,445.8 L182.1,445.1 L180.1,445.4 L178.1,444.8 L176.0,445.6 L174.1,444.3 L172.0,444.7 L171.6,442.4 L170.0,440.6 L169.0,438.6 L168.0,436.6 L167.0,434.5 L166.0,432.5 L164.3,430.8 L164.5,428.1 L162.9,426.4 L161.1,425.2 L159.5,423.7 L157.9,422.3 L156.6,420.6 L155.7,418.5 L153.8,417.3 L152.0,415.9 L150.9,414.0 L150.4,411.7 L148.5,410.3 L147.7,408.2 L145.3,407.8 L143.7,406.0 L141.7,405.0 L139.6,404.0 L137.7,402.8 L135.5,402.0 L133.2,401.5 L131.7,399.5 L129.6,398.7 L127.1,398.6 L125.2,397.5 L123.4,396.0 L122.6,393.8 L121.9,391.5 L120.8,389.4 L120.4,387.0 L119.7,385.0 L119.9,383.0 L119.3,381.0 L119.8,378.9 L120.1,376.8 L118.8,374.9 L119.3,372.8 L119.3,370.8 L118.8,368.8 L117.9,366.8 L118.4,364.4 L118.1,362.3 L116.8,360.3 L116.4,358.2 L116.6,355.9 L115.7,353.9 L115.0,351.8 L115.4,349.5 L114.3,347.5 L114.3,345.2 L113.2,343.2 L112.6,341.1 L112.3,338.9 L112.1,336.7 L112.4,334.3 L111.3,332.3 L111.4,330.1 L111.3,327.9 L110.8,325.8 L110.5,323.7 L109.0,321.8 L109.3,319.5 L109.7,317.3 L109.3,315.2 L108.0,313.2 L108.0,311.0 L106.8,309.2 L105.9,307.1 L104.5,305.5 L103.5,303.5 L101.8,302.0 L101.2,299.8 L100.1,297.9 L99.0,296.0 L98.1,294.0 L98.0,291.8 L99.0,289.6 L98.5,287.5 L98.5,285.4 L97.8,283.3 L97.8,281.2 L97.7,279.1 L97.5,277.0 L96.0,275.0 L96.7,272.8 L95.9,270.7 L96.0,268.6 L96.1,266.5 L95.4,264.4 L95.6,262.2 L96.1,260.0 L95.5,257.9 L94.8,255.8 L95.1,253.7 L94.8,251.6 L95.4,249.4 L94.6,247.3 L95.4,245.4 L96.5,243.7 L98.0,242.2 L98.3,240.1 L100.0,238.7 L101.5,237.3 L102.0,235.2 L102.4,233.1 L102.5,230.9 L103.2,228.8 L103.7,226.7 L103.5,224.5 L103.9,222.4 L104.3,220.2 L105.0,218.2 L105.7,216.1 L105.7,213.8 L105.7,211.5 L105.9,209.2 L105.8,206.9 L106.6,204.7 L107.3,202.2 L108.4,199.8 L108.5,197.1 L109.8,195.3 L110.8,193.4 L112.0,191.5 L112.6,189.3 L114.4,187.8 L115.2,185.7 L116.2,183.8 L117.4,182.0 L118.6,180.1 L119.5,178.1 L120.4,176.1 L121.4,174.2 L122.8,172.5 L123.2,170.4 L124.3,168.7 L124.9,166.7 L126.0,164.9 L125.9,162.7 L127.2,161.0 L128.6,159.4 L128.5,157.2 L129.7,155.4 L130.4,153.5 L131.1,151.3 L131.4,149.1 L133.1,147.2 L132.8,144.7 L134.1,142.8 L133.9,140.3 L135.1,138.3 L135.1,135.6 L136.9,133.4 L137.0,130.7 L137.4,127.8 L138.0,125.0 L137.7,122.6 L138.6,120.4 L139.0,118.1 L139.8,115.9 L139.8,113.6 L139.3,111.4 L139.6,109.3 L140.9,107.3 L140.7,105.1 L139.9,102.9 L140.3,100.8 L140.5,98.7 L140.8,96.6 L140.6,94.1 L140.0,91.8 L139.9,89.3 L138.9,87.0Z" fill="none" stroke="#5f6266" stroke-width="0.9" stroke-linejoin="round"/>
<path d="M983.0,154.0 L981.5,155.8 L979.4,156.7 L977.3,157.5 L976.0,159.6 L974.3,160.9 L972.4,162.1 L970.4,163.2 L968.9,164.7 L967.5,166.3 L967.0,168.6 L965.7,170.3 L964.4,171.9 L962.8,173.4 L961.5,175.1 L959.7,176.4 L958.6,178.3 L956.9,179.7 L955.2,181.0 L953.8,182.6 L951.4,182.9 L949.9,184.5 L948.8,186.5 L946.3,186.7 L945.0,188.5 L944.5,190.8 L943.2,192.7 L941.3,194.3 L940.6,196.5 L940.0,198.7 L939.0,200.5 L938.8,202.5 L938.6,204.5 L937.5,206.3 L937.6,208.4 L938.7,210.4 L938.4,212.6 L940.6,214.2 L942.2,216.4 L941.5,218.6 L941.2,220.9 L939.7,222.8 L941.4,224.3 L942.5,226.3 L944.2,227.7 L946.0,229.1 L947.2,231.6 L948.5,234.1 L951.1,233.9 L953.6,233.2 L956.1,232.9 L956.2,230.8 L957.4,229.1 L955.8,227.7 L953.9,226.7 L952.3,225.3 L954.1,226.3 L956.1,226.6 L956.8,229.4 L958.6,231.6 L957.0,233.0 L955.2,234.0 L953.6,235.4 L951.6,236.8 L950.3,238.9 L948.5,240.5 L946.0,241.3 L943.4,241.0 L940.9,241.7 L938.9,242.5 L937.3,243.9 L935.9,245.5 L933.7,246.1 L931.4,246.7 L929.5,248.1 L927.4,248.3 L925.4,248.9 L923.5,249.7 L921.5,250.4 L919.4,250.6 L917.2,251.7 L915.5,253.6 L913.1,254.4 L911.5,255.8 L909.4,256.6 L908.0,258.2 L906.5,259.6 L905.3,261.2 L904.5,263.2 L903.0,264.5 L902.1,266.3 L901.0,268.1 L899.8,269.7 L899.0,271.6 L897.9,273.3 L900.5,275.9 L901.1,278.1 L901.6,280.3 L903.0,282.2 L903.5,284.4 L902.8,286.6 L902.6,288.8 L903.0,291.0 L902.7,293.5 L902.0,296.0 L900.2,297.8 L898.4,299.5 L896.6,301.5 L896.7,304.5 L894.9,306.5 L893.9,308.7 L893.1,311.0 L891.0,310.1 L889.8,308.0 L888.2,306.5 L886.0,305.7 L884.3,303.4 L882.5,301.2 L883.5,303.3 L883.2,305.6 L883.7,307.8 L884.2,310.0 L885.8,311.6 L887.7,312.7 L889.4,314.2 L891.3,315.4 L891.4,317.9 L892.5,320.1 L893.1,322.5 L892.9,324.6 L891.7,326.6 L892.4,328.9 L891.4,330.9 L891.3,333.1 L891.0,335.2 L889.9,337.1 L890.3,339.3 L888.6,341.0 L889.0,343.3 L888.9,345.4 L887.8,347.3 L887.2,349.3 L886.0,351.0 L884.0,348.0 L883.3,345.9 L882.2,343.8 L882.2,341.5 L881.7,339.4 L881.5,337.1 L880.7,335.0 L879.8,332.9 L879.0,330.9 L878.3,328.7 L878.4,326.4 L878.0,324.2 L876.8,322.2 L875.7,320.3 L875.4,318.0 L875.6,316.0 L874.8,314.0 L874.4,312.0 L874.0,310.1 L874.8,308.0 L874.7,306.0 L874.0,304.0 L871.9,303.0 L870.5,305.2 L869.5,307.7 L868.3,310.0 L868.5,312.0 L869.2,314.0 L868.4,316.2 L869.5,318.1 L869.4,320.2 L869.4,322.2 L870.1,324.2 L870.4,326.4 L871.7,328.2 L872.7,330.2 L873.1,332.3 L874.4,334.1 L874.2,336.5 L875.4,338.4 L876.5,340.4 L876.7,342.7 L878.4,344.5 L879.1,346.6 L880.2,348.6 L880.7,350.8 L882.5,351.9 L884.5,352.7 L886.0,354.3 L887.7,356.1 L887.8,358.7 L889.5,360.6 L890.6,362.7 L891.3,365.0 L892.6,367.0 L893.4,369.2 L894.6,371.3 L895.4,373.6 L896.6,375.6 L897.6,378.1 L899.2,380.2 L900.2,382.7 L899.8,385.1 L900.2,387.4 L901.0,389.7 L900.2,391.9 L898.0,393.0 L896.6,394.7 L895.4,396.6 L894.9,398.9 L893.1,400.4 L891.0,401.4 L889.4,403.0 L888.2,405.2 L886.4,406.6 L884.2,407.4 L882.0,408.3 L880.5,410.1 L879.2,412.0 L877.5,413.5 L875.4,414.5 L874.0,416.3 L872.1,417.6 L869.8,418.3 L868.3,420.0 L867.5,422.3 L866.8,424.6 L865.4,426.6 L863.3,426.7 L861.5,427.5 L859.9,429.0 L857.6,428.6 L855.8,429.6 L854.0,430.4 L852.6,432.0 L851.6,433.9 L850.2,435.5 L849.3,437.4 L848.1,439.1 L847.9,441.4 L846.4,443.0 L844.9,444.4 L843.8,446.1 L842.3,447.5 L841.4,449.4 L839.6,450.6 L838.8,452.5 L837.8,454.3 L836.3,455.7 L834.9,457.4 L833.2,458.9 L831.2,459.9 L829.9,461.8 L827.8,462.7 L826.4,464.5 L824.4,465.5 L822.7,466.9 L821.0,468.3 L820.3,470.2 L819.2,471.9 L819.8,474.2 L818.0,475.7 L817.9,477.8 L817.2,479.7 L816.4,481.5 L816.0,483.5 L814.9,485.5 L815.0,487.9 L814.3,490.0 L813.6,492.1 L812.8,494.1 L813.9,496.2 L813.0,498.2 L812.8,500.2 L813.6,502.3 L812.6,504.3 L812.6,506.3 L812.8,508.4 L813.0,510.5 L814.3,512.3 L814.6,514.4 L815.2,516.8 L817.0,518.4 L818.3,520.4 L819.0,522.8 L820.7,524.5 L822.4,525.8 L822.7,528.1 L824.0,529.8 L825.5,531.3 L826.0,533.4 L827.8,534.8 L828.8,536.6 L830.2,538.3 L831.4,540.0 L832.5,541.9 L834.5,543.1 L835.5,545.0 L836.8,546.7 L837.9,548.4 L838.8,550.3 L839.4,552.3 L841.1,553.6 L841.4,555.8 L843.0,557.3 L843.9,559.1 L844.9,560.9 L846.2,562.5 L846.9,564.4 L847.3,566.5 L848.7,568.1 L849.6,569.9 L851.2,571.3 L852.2,573.1 L853.0,575.0 L853.7,577.0 L853.6,579.1 L853.9,581.1 L854.1,583.2 L855.6,585.0 L854.9,587.2 L855.1,589.3 L856.0,591.2 L855.9,593.2 L856.7,595.3 L856.3,597.3 L856.7,599.3 L856.5,601.3 L855.4,603.4 L856.0,605.4 L855.2,607.4 L854.6,609.4 L853.8,611.3 L853.0,613.3 L853.0,615.5 L850.9,616.3 L848.9,617.3 L846.8,618.3 L844.9,619.5 L843.0,618.6 L840.9,618.0 L838.9,617.5 L837.6,615.9 L835.7,614.9 L834.7,613.0 L833.1,611.8 L832.0,610.0 L829.8,609.3 L828.8,607.4 L827.0,606.0 L825.4,604.4 L824.7,601.9 L823.4,600.1 L821.7,598.6 L819.9,597.2 L818.6,595.3 L817.8,593.4 L816.5,591.8 L815.1,590.4 L813.5,589.0 L812.6,587.2 L811.3,585.6 L810.5,583.7 L809.3,582.0 L808.5,580.2 L807.7,578.2 L807.1,576.2 L804.9,575.1 L804.5,573.0 L803.6,570.9 L801.8,569.3 L800.9,567.2 L800.8,564.7 L799.5,562.9 L798.4,560.9 L798.7,558.8 L797.7,556.9 L796.7,555.0 L796.9,552.9 L796.9,550.8 L796.4,548.8 L795.6,546.7 L794.3,545.0 L792.3,543.7 L790.9,542.1 L789.2,540.7 L788.3,538.6 L786.8,536.8 L784.8,535.7 L783.1,534.2 L781.3,532.7 L780.2,530.6 L777.8,530.0 L776.3,527.9 L773.8,527.4 L772.5,525.1 L770.1,524.5 L768.8,526.2 L766.4,526.3 L765.4,528.4 L763.8,529.7 L761.5,530.0 L760.0,531.4 L758.4,533.1 L756.1,533.9 L754.7,535.9 L752.6,536.9 L750.2,537.1 L748.1,535.6 L745.8,535.5 L744.2,533.5 L742.5,531.5 L740.3,530.1 L738.5,527.8 L736.2,526.0 L733.8,526.1 L731.7,524.9 L729.4,524.6 L726.7,523.9 L723.9,523.9 L721.8,523.8 L719.9,522.9 L717.7,523.7 L715.7,523.2 L713.3,523.0 L711.1,523.8 L708.9,524.6 L706.8,526.0 L704.5,526.7 L702.0,526.7 L699.7,526.7 L697.4,526.6 L695.2,527.3 L693.1,528.4 L690.7,528.5 L688.4,528.7 L686.2,527.9 L683.7,528.3 L681.5,527.3 L679.1,527.2 L677.0,528.3 L674.7,528.7 L673.2,530.2 L671.1,530.7 L669.2,531.4 L667.8,533.4 L666.5,535.5 L666.6,537.5 L666.5,539.6 L666.9,542.4 L667.9,545.1 L669.9,546.1 L671.0,548.2 L673.1,549.1 L674.7,550.6 L676.6,552.8 L678.8,554.7 L677.4,557.4 L675.7,556.3 L673.7,555.7 L672.0,554.7 L670.1,553.5 L668.6,551.6 L666.5,550.6 L663.6,550.7 L661.0,552.0 L658.3,554.7 L655.4,555.3 L652.8,556.7 L650.7,556.8 L648.7,557.4 L646.7,557.9 L644.6,557.4 L642.9,555.7 L640.6,555.1 L638.7,553.9 L636.4,553.3 L635.3,551.6 L634.7,549.6 L633.7,547.9 L631.7,546.3 L629.3,545.6 L626.8,545.1 L624.6,544.5 L622.2,544.5 L620.0,543.8 L617.8,544.1 L615.6,543.6 L613.5,544.6 L611.3,544.3 L609.2,544.6 L606.9,544.3 L604.8,544.7 L602.7,545.6 L600.5,545.5 L598.5,546.4 L596.4,546.3 L594.3,546.2 L592.2,546.2 L590.0,546.0 L588.0,546.7 L586.0,546.1 L584.0,547.4 L582.0,546.2 L580.0,546.7 L577.8,547.5 L575.7,548.7 L573.9,550.3 L572.2,551.9 L570.0,552.8 L568.0,554.1 L566.5,555.8 L565.0,557.5 L563.2,558.9 L562.0,561.0 L560.4,562.3 L558.9,563.8 L556.8,564.4 L554.9,565.2 L553.7,567.1 L551.5,567.5 L550.0,569.0 L547.9,569.3 L546.6,571.1 L544.5,571.5 L542.6,572.3 L541.0,573.5 L539.3,574.7 L537.5,575.6 L535.3,575.8 L533.7,577.0 L531.9,578.1 L530.9,580.0 L529.8,581.8 L527.6,582.5 L526.2,584.0 L525.3,586.0 L523.6,587.2 L523.0,589.2 L522.1,591.1 L521.7,593.1 L521.7,595.3 L521.4,597.3 L520.7,599.3 L520.9,601.5 L520.4,603.5 L519.5,605.4 L520.6,607.3 L520.4,609.5 L521.5,611.4 L521.8,613.5 L522.7,615.5 L523.1,617.5 L524.3,619.4 L525.0,621.4 L524.3,623.8 L525.6,625.6 L523.7,627.3 L521.6,628.6 L519.4,628.5 L517.6,627.2 L515.7,626.3 L513.3,626.6 L511.5,625.3 L509.4,625.1 L507.4,624.2 L505.4,623.6 L503.1,623.5 L501.1,622.7 L499.6,620.6 L497.5,620.0 L495.3,619.8 L493.3,618.9 L491.1,618.6 L489.2,617.5 L488.8,615.3 L487.5,613.5 L487.4,611.2 L486.3,609.3 L485.5,607.2 L484.9,605.1 L483.1,603.5 L482.0,601.6 L481.4,599.5 L481.0,597.3 L479.6,595.5 L478.4,593.5 L477.4,591.5 L477.1,589.2 L476.5,587.0 L475.0,585.2 L473.8,583.4 L473.3,581.2 L472.2,579.5 L470.0,578.3 L469.6,576.1 L468.2,574.5 L466.7,572.9 L466.7,570.4 L465.0,569.0 L463.8,567.4 L463.3,565.4 L462.5,563.5 L462.0,561.5 L460.7,559.9 L459.4,558.3 L458.6,556.4 L457.3,554.8 L456.8,552.8 L455.5,550.8 L453.8,549.3 L451.3,548.8 L449.4,547.6 L447.9,545.9 L446.3,544.3 L444.7,542.7 L442.7,541.9 L440.7,541.7 L438.7,541.5 L436.5,542.5 L434.6,541.2 L432.6,541.1 L430.6,540.9 L428.6,540.2 L426.5,540.7 L425.8,542.7 L424.5,544.3 L422.5,545.3 L421.1,546.8 L420.4,548.8 L418.6,550.2 L417.4,552.2 L415.5,553.5 L413.7,554.9 L412.4,556.8 L410.3,556.3 L408.7,555.0 L406.9,554.1 L405.0,553.3 L403.5,551.8 L401.5,551.2 L399.8,550.1 L398.2,548.8 L396.3,547.4 L395.5,545.1 L393.3,544.0 L392.6,541.6 L390.6,540.4 L388.9,538.8 L388.0,536.6 L388.3,534.5 L386.9,532.6 L387.6,530.4 L387.2,528.4 L386.9,526.4 L386.0,524.5 L384.4,523.2 L383.5,521.3 L381.9,520.0 L381.7,517.6 L380.0,516.4 L378.8,514.5 L377.1,513.2 L375.4,511.8 L373.7,510.4 L372.7,508.4 L370.9,507.2 L369.5,505.5 L367.5,504.5 L366.0,502.8 L364.8,501.0 L363.0,499.7 L362.5,497.5 L361.0,496.0 L359.2,494.7 L358.7,492.3 L357.0,491.0 L356.0,489.0 L353.9,489.4 L351.8,489.2 L349.8,489.7 L347.7,489.6 L345.6,488.8 L343.5,489.6 L341.4,489.9 L339.3,489.5 L337.2,489.8 L335.1,489.0 L333.1,490.2 L331.0,489.0 L328.9,490.4 L326.8,489.8 L325.6,491.5 L325.3,493.5 L325.3,495.6 L324.3,497.4 L322.3,497.1 L320.3,497.0 L318.3,496.7 L316.3,496.4 L314.3,495.8 L312.5,494.5 L310.4,494.9 L308.5,493.9 L306.4,493.7 L304.2,494.6 L302.3,494.0 L300.4,492.8 L298.2,493.8 L296.3,492.5 L294.2,492.8 L292.3,491.5 L290.1,492.6 L288.2,491.1 L286.1,491.5 L284.0,491.5 L282.0,491.4 L280.1,489.9 L278.0,490.1 L276.0,489.8 L273.8,489.4 L272.0,488.1 L270.2,486.6 L267.8,486.7 L266.0,485.3 L263.8,485.0 L261.8,484.1 L260.2,482.4 L258.1,481.6 L256.0,481.0 L254.0,480.3 L252.2,479.4 L250.5,478.3 L249.2,476.6 L247.4,475.6 L245.5,474.8 L243.7,473.8 L242.3,472.2 L240.7,471.0 L239.0,469.8 L237.1,469.0 L235.1,468.5 L233.3,467.6 L232.1,465.6 L230.1,465.0 L228.6,463.5 L226.4,463.3 L225.2,461.2 L223.1,460.7 L221.8,459.0 L220.1,457.9 L218.1,457.3 L216.0,456.8 L215.0,454.6 L212.9,454.1 L211.2,453.0 L212.8,451.5 L213.1,449.3 L214.5,447.7 L212.4,448.0 L210.5,446.9 L208.4,447.5 L206.4,447.6 L204.4,447.2 L202.4,446.7 L200.3,447.4 L198.3,446.5 L196.3,446.5 L194.3,446.2 L192.2,446.7 L190.2,445.7 L188.2,445.4 L186.2,445.2 L184.1,445.8 L182.1,445.1 L180.1,445.4 L178.1,444.8 L176.0,445.6 L174.1,444.3 L172.0,444.7 L171.6,442.4 L170.0,440.6 L169.0,438.6 L168.0,436.6 L167.0,434.5 L166.0,432.5 L164.3,430.8 L164.5,428.1 L162.9,426.4 L161.1,425.2 L159.5,423.7 L157.9,422.3 L156.6,420.6 L155.7,418.5 L153.8,417.3 L152.0,415.9 L150.9,414.0 L150.4,411.7 L148.5,410.3 L147.7,408.2 L145.3,407.8 L143.7,406.0 L141.7,405.0 L139.6,404.0 L137.7,402.8 L135.5,402.0 L133.2,401.5 L131.7,399.5 L129.6,398.7 L127.1,398.6 L125.2,397.5 L123.4,396.0 L122.6,393.8 L121.9,391.5 L120.8,389.4 L120.4,387.0 L119.7,385.0 L119.9,383.0 L119.3,381.0 L119.8,378.9 L120.1,376.8 L118.8,374.9 L119.3,372.8 L119.3,370.8 L118.8,368.8 L117.9,366.8 L118.4,364.4 L118.1,362.3 L116.8,360.3 L116.4,358.2 L116.6,355.9 L115.7,353.9 L115.0,351.8 L115.4,349.5 L114.3,347.5 L114.3,345.2 L113.2,343.2 L112.6,341.1 L112.3,338.9 L112.1,336.7 L112.4,334.3 L111.3,332.3 L111.4,330.1 L111.3,327.9 L110.8,325.8 L110.5,323.7 L109.0,321.8 L109.3,319.5 L109.7,317.3 L109.3,315.2 L108.0,313.2 L108.0,311.0 L106.8,309.2 L105.9,307.1 L104.5,305.5 L103.5,303.5 L101.8,302.0 L101.2,299.8 L100.1,297.9 L99.0,296.0 L98.1,294.0 L98.0,291.8 L99.0,289.6 L98.5,287.5 L98.5,285.4 L97.8,283.3 L97.8,281.2 L97.7,279.1 L97.5,277.0 L96.0,275.0 L96.7,272.8 L95.9,270.7 L96.0,268.6 L96.1,266.5 L95.4,264.4 L95.6,262.2 L96.1,260.0 L95.5,257.9 L94.8,255.8 L95.1,253.7 L94.8,251.6 L95.4,249.4 L94.6,247.3 L95.4,245.4 L96.5,243.7 L98.0,242.2 L98.3,240.1 L100.0,238.7 L101.5,237.3 L102.0,235.2 L102.4,233.1 L102.5,230.9 L103.2,228.8 L103.7,226.7 L103.5,224.5 L103.9,222.4 L104.3,220.2 L105.0,218.2 L105.7,216.1 L105.7,213.8 L105.7,211.5 L105.9,209.2 L105.8,206.9 L106.6,204.7 L107.3,202.2 L108.4,199.8 L108.5,197.1 L109.8,195.3 L110.8,193.4 L112.0,191.5 L112.6,189.3 L114.4,187.8 L115.2,185.7 L116.2,183.8 L117.4,182.0 L118.6,180.1 L119.5,178.1 L120.4,176.1 L121.4,174.2 L122.8,172.5 L123.2,170.4 L124.3,168.7 L124.9,166.7 L126.0,164.9 L125.9,162.7 L127.2,161.0 L128.6,159.4 L128.5,157.2 L129.7,155.4 L130.4,153.5 L131.1,151.3 L131.4,149.1 L133.1,147.2 L132.8,144.7 L134.1,142.8 L133.9,140.3 L135.1,138.3 L135.1,135.6 L136.9,133.4 L137.0,130.7 L137.4,127.8 L138.0,125.0 L137.7,122.6 L138.6,120.4 L139.0,118.1 L139.8,115.9 L139.8,113.6 L139.3,111.4 L139.6,109.3 L140.9,107.3 L140.7,105.1 L139.9,102.9 L140.3,100.8 L140.5,98.7 L140.8,96.6 L140.6,94.1 L140.0,91.8 L139.9,89.3 L138.9,87.0 L139.8,83.3 L141.0,85.0 L143.4,85.3 L144.5,87.2 L145.9,88.7 L148.1,89.1 L149.3,90.9 L151.0,92.0 L153.3,91.6 L155.0,92.9 L156.9,93.5 L158.7,94.2 L160.7,94.7 L161.6,96.5 L162.1,98.5 L162.6,100.4 L164.5,102.3 L162.9,103.7 L161.6,105.4 L159.8,106.6 L158.6,108.4 L157.0,109.8 L156.8,112.0 L157.0,114.4 L156.0,116.5 L158.1,116.4 L160.2,116.0 L162.3,115.4 L164.5,115.5 L165.5,113.1 L166.2,110.6 L166.4,108.0 L167.7,106.4 L168.7,104.6 L170.3,103.4 L171.2,101.5 L173.0,100.4 L172.3,98.3 L172.6,96.1 L172.0,93.9 L172.4,91.7 L172.4,89.5 L171.5,87.4 L172.1,85.2 L171.7,82.9 L170.2,80.9 L170.2,78.5" fill="none" stroke="#55585c" stroke-width="1.25" stroke-linejoin="round"/>
<path d="M605.5,179.2 L621.0,164.0 L641.0,150.4 L645.3,139.3 L660.8,128.3 L685.0,130.5 L709.5,145.0 L714.0,159.3 L714.7,168.2 L718.8,173.0 L722.9,173.7 L717.4,176.4 L711.3,175.7 L709.2,170.3 L698.3,173.7 L686.0,179.1 L676.4,177.8 L668.2,170.9 L662.0,172.0 L660.8,168.1 L667.5,160.4 L658.6,165.9 L652.0,174.7 L634.3,181.4 L629.8,174.7Z M672.3,205.1 L670.9,220.2 L676.0,214.0 L681.9,203.0 L687.3,194.2 L684.0,203.0 L680.5,217.4 L677.8,228.4 L676.4,240.0 L674.1,247.8 L678.5,274.3 L685.2,283.2 L696.2,278.8 L700.6,258.8 L694.2,240.0 L695.5,225.6 L696.9,214.7 L701.0,209.2 L706.5,206.5 L710.6,201.0 L713.3,195.5 L717.4,190.1 L721.0,188.0 L717.4,186.0 L703.8,186.0 L691.4,191.4 L686.0,193.0 L678.0,197.0Z M729.7,183.9 L734.5,184.6 L748.0,181.0 L762.5,178.5 L776.2,179.1 L783.0,187.3 L789.9,196.9 L795.4,201.0 L789.9,207.9 L779.0,205.1 L773.5,199.6 L763.9,195.5 L769.4,198.3 L773.5,203.8 L772.1,214.7 L768.0,224.3 L769.4,240.0 L768.3,243.1 L760.4,245.6 L757.1,240.0 L754.3,227.0 L748.9,224.3 L742.0,228.4 L735.2,233.8 L734.5,228.4 L739.3,224.3 L739.3,214.7 L740.7,205.1 L737.9,199.6 L724.3,191.4 L721.0,188.0 L724.0,186.0Z M768.3,258.3 L781.0,249.4 L796.0,248.2 L807.5,241.8 L815.0,240.6 L807.5,250.7 L796.0,259.6 L782.2,268.4 L770.8,277.3 L763.2,279.8 L755.6,278.5 L748.0,273.5 L750.6,265.9 L753.0,263.3 L762.0,260.8Z M801.2,228.0 L810.0,223.0 L831.2,211.0 L843.9,205.0 L852.4,201.3 L854.0,203.0 L849.0,211.3 L836.3,223.9 L813.5,228.9 L801.2,232.7Z" fill="none" stroke="#5f6266" stroke-width="0.9" stroke-linejoin="round"/>
<path d="M356.0,489.0 L420.4,493.6" fill="none" stroke="#5f6266" stroke-width="0.9"/>
<path d="M121.0,399.5 L127.0,400.0 L133.0,402.0 L138.0,404.5 L132.0,405.0 L125.0,403.0Z M131.0,419.0 L134.0,419.5 L133.0,421.5 L130.5,421.0Z M149.0,419.0 L153.0,420.0 L152.0,423.0 L149.0,422.0Z M146.0,430.0 L149.0,431.0 L149.0,435.0 L146.0,434.0Z M899.5,274.4 L909.0,269.0 L919.8,261.8 L935.0,249.2 L930.0,251.7 L912.2,259.4 L902.0,266.9Z" fill="#E4894A" stroke="#55585c" stroke-width="1.3"/>
<path d="M868.3,310.0 L866.9,311.1 L865.4,311.7 L863.3,310.7 L862.0,312.0 L860.6,313.4 L859.6,315.0 L859.8,317.3 L858.8,318.9 L857.0,320.0 M870.1,324.2 L868.6,325.2 L867.0,325.5 L865.3,325.7 L863.7,325.9 L862.0,326.0 L861.5,327.8 L859.9,328.6 L858.3,329.3 L857.8,331.1 L855.7,331.4 L855.0,333.0 M875.4,338.4 L873.5,338.6 L871.6,338.6 L869.8,339.8 L867.9,339.8 L866.0,340.0 L864.3,341.0 L863.2,342.7 L862.1,344.5 L860.0,345.0 M880.7,350.8 L878.9,350.4 L877.1,350.7 L875.5,351.9 L873.9,352.7 L872.0,352.0 L870.1,352.4 L868.9,353.8 L868.0,355.8 L866.0,356.0 M884.2,334.9 L885.0,333.3 L886.0,331.9 L888.2,331.6 L889.0,330.0 M880.7,322.5 L881.7,320.6 L884.2,320.1 L885.0,318.0 M872.0,303.0 L873.2,301.8 L872.9,299.8 L874.7,299.0 L875.0,297.3 L876.0,296.0 M886.0,372.0 L884.2,372.6 L882.6,373.5 L881.7,375.4 L880.0,376.0 M890.0,395.0 L888.7,396.4 L886.5,395.4 L885.3,396.9 L883.3,396.6 L882.0,398.0" fill="none" stroke="#55585c" stroke-width="2"/>
<path d="M101.0,303.0 L102.7,303.8 L104.3,303.0 L106.0,303.0 L107.8,304.3 L109.8,304.9 L112.0,305.0 L113.9,306.0 L116.0,305.6 L118.0,306.0 L119.5,307.4 L121.3,308.0 L122.8,309.2 L125.0,309.0 M107.0,304.0 L108.6,305.7 L107.4,308.3 L109.0,310.0 L111.0,311.0 L110.0,313.5 L111.2,314.9 L112.2,316.4 L113.0,318.0 M983.0,154.0 L980.9,154.1 L980.1,155.9 L978.9,157.2 L977.0,157.5 L975.4,158.3 L974.4,159.9 L973.4,161.4 L971.9,162.3 L970.4,163.2 L969.4,164.7 L967.8,165.8 L967.6,167.9 L966.3,169.2 L964.9,170.4 L964.1,172.1 L962.8,173.4 L961.9,175.0 L959.7,175.4 L958.4,176.6 L957.7,178.5 L956.6,179.8 L955.2,181.0 L954.2,182.7 L952.6,183.6 L951.4,185.0 L949.3,185.1 L947.8,186.2 L947.1,188.3 L945.0,188.5 L943.3,189.5 L944.0,191.6 L942.1,192.5 L941.4,193.9 L940.4,195.3 L941.4,197.6 L940.0,198.7 L939.7,200.3 L938.0,201.4 L939.7,203.7 L939.1,205.1 L937.5,206.3 L937.6,208.4 L938.1,210.5 L938.4,212.6 M891.3,365.0 L891.1,367.0 L892.2,368.3 L893.5,369.6 L893.2,371.6 L895.0,372.6 L895.8,374.1 L896.6,375.6 L897.1,377.6 L898.7,379.0 L899.6,380.8 L900.2,382.7 L900.2,384.5 L901.0,386.2 L899.6,388.1 L901.0,389.7 L899.6,390.8 L899.0,392.3 L898.9,394.3 L897.3,395.2 L896.3,396.5 L894.9,397.6 L893.9,398.9 L893.1,400.4 L891.2,400.6 L889.8,401.5 L889.3,403.4 L888.1,404.5 L886.5,405.1 L884.7,405.4 L884.2,407.4 M836.3,455.7 L835.3,457.1 L833.7,457.7 L832.0,458.2 L831.7,460.6 L830.2,461.3 L827.9,461.0 L826.8,462.4 L826.1,464.1 L825.5,465.9 L822.9,465.4 L822.0,466.9 L821.0,468.3 L819.7,469.6 L818.8,470.9 L818.5,472.5 L819.2,474.4 L819.3,476.2 L818.5,477.6 L817.5,478.9 L817.0,480.5 L817.3,482.2 L816.0,483.5 L816.3,485.4 L814.7,486.8 L814.3,488.6 L814.4,490.5 L813.6,492.1 L812.2,493.8 L813.0,495.6 L814.4,497.5 L813.3,499.2 L812.2,500.9 L813.4,502.8 L812.2,504.5 L812.6,506.3 L814.3,507.6 L813.9,509.4 L812.9,511.4 L814.0,512.8 L814.6,514.4 M796.4,548.8 L795.7,547.3 L793.8,546.7 L793.4,545.0 L792.5,543.6 L790.9,542.8 L790.6,540.9 L789.4,539.8 L788.3,538.6 L788.1,536.5 L786.1,536.2 L784.7,535.3 L783.0,534.7 L781.9,533.5 L781.8,531.3 L780.2,530.6 L778.2,530.6 L776.8,529.7 L775.4,528.7 L774.5,527.1 L773.4,525.5 L771.7,525.1 L770.1,524.5 M745.8,535.5 L747.3,536.6 L749.4,535.1 L751.2,535.3 L752.6,536.9 L754.5,536.4 L755.3,534.3 L757.4,534.0 L758.3,532.2 L760.0,531.4 M633.7,547.9 L635.4,549.3 L636.0,551.2 L636.4,553.3 L638.5,553.2 L639.2,555.9 L641.2,556.0 L643.1,556.2 L644.6,557.4 L646.2,557.1 L647.9,556.8 L649.4,555.8 L651.2,557.9 L652.8,556.7 L654.7,556.2 L656.9,556.5 L658.3,554.7 L659.5,553.2 L661.0,552.0 L662.9,551.8 L664.5,550.4 L666.5,550.6 L668.6,550.7 L668.6,553.5 L670.1,554.4 L672.0,554.7 L674.0,555.2 L675.1,557.4 L677.4,557.4 L678.8,554.7 L678.0,552.8 L675.7,552.3 L674.7,550.6 L673.5,549.3 L672.7,547.5 L670.6,547.3 L670.0,545.3 L667.9,545.1 L666.8,543.4 L666.7,541.5 L666.5,539.6 L667.1,537.5 L666.5,535.5 L666.8,533.7 L667.9,532.5 L669.2,531.4 M680.0,533.0 L679.6,535.0 L681.0,536.5 L680.8,538.5 L682.0,540.0 L682.1,541.9 L681.8,543.7 L680.9,545.4 L680.0,547.0 M711.0,524.0 L712.5,523.0 L714.3,524.9 L715.7,523.0 L717.4,523.5 L719.0,523.2 L720.9,522.4 L722.5,523.8 L724.2,523.6 L726.0,523.9 L727.8,523.2 L729.4,524.6 M296.8,677.2 L298.1,675.4 L300.7,676.2 L302.0,674.2 L303.9,673.6 L305.4,672.1 L307.1,671.1 L309.0,670.5 L311.0,670.1 M311.0,691.3 L311.8,689.8 L312.8,688.3 L315.0,688.6 L315.8,686.9 L316.7,685.5 L318.9,685.6 L319.8,684.2 L319.1,682.2 L319.9,680.6 L321.7,679.1 L320.3,677.0 L321.6,675.4 L323.3,674.9 L325.3,675.5 L327.0,675.1 L328.5,673.1 L330.4,673.6 L331.9,674.4 L332.4,676.2 L334.2,676.7 L334.4,678.9 L336.9,678.6 L336.8,681.1 L338.8,681.4 L340.0,682.5 M398.7,694.0 L400.5,694.3 L401.7,695.6 L403.5,695.8 L404.5,697.5 L405.8,698.9 L408.0,698.9 L409.2,700.4 L411.3,700.4 L412.3,698.8 L413.6,697.4 L414.9,696.2 L416.9,696.1 L417.9,694.3 L419.8,694.0 M163.0,82.0 L164.6,83.2 L166.6,81.5 L168.2,82.8 L170.0,83.0 L169.2,84.6 L169.2,86.6 L168.0,88.0 L168.8,89.6 L170.7,89.8 L171.5,91.3 L173.0,92.0 L171.4,92.6 L170.2,93.9 L168.6,94.5 L167.0,95.0 L168.9,95.2 L170.0,96.3 L170.2,98.7 L172.0,99.0 L170.8,100.2 L169.0,100.2 L168.3,102.3 L166.3,102.1 L165.0,103.0 L166.5,103.7 L167.7,105.0 L169.0,106.0 L167.6,107.3 L166.3,108.6 L164.4,108.8 L162.9,109.8 L161.0,110.0 L163.0,109.8 L164.1,111.9 L166.0,112.0 L164.7,113.3 L162.9,113.8 L160.7,113.4 L159.3,114.6 L158.0,116.0 L159.6,114.7 L160.2,113.0 L159.1,110.6 L160.1,109.1 L160.2,107.2 L162.0,106.0 L160.2,106.2 L158.5,106.9 L157.0,108.0 L157.7,106.5 L158.8,105.3 L160.3,104.4 L161.4,103.2 L161.5,101.2 L163.7,100.8 L164.0,99.0 L162.2,97.8 L161.0,96.0 M170.0,78.5 L167.8,79.5 L166.0,81.0 L163.0,80.0" fill="none" stroke="#55585c" stroke-width="2.3" stroke-linejoin="round" stroke-linecap="round"/>
<path d="M888.0,371.0 L893.0,375.0 L897.0,382.0 L898.0,390.0 L893.0,395.0 L889.0,394.0 L891.0,386.0 L888.0,378.0Z" fill="#fff" stroke="#55585c" stroke-width="1"/>
<path d="M815.0,635.0 C816.2,634.8 819.5,634.1 822.0,633.5 C824.5,632.9 827.3,632.3 830.0,631.5 C832.7,630.7 835.3,629.7 838.0,628.5 C840.7,627.3 843.7,625.9 846.0,624.5 C848.3,623.1 850.2,621.8 852.0,620.0 C853.8,618.2 856.2,615.0 857.0,614.0" fill="none" stroke="#55585c" stroke-width="1.6" stroke-dasharray="3 1.6"/>
<path d="M739.3,184.6 L750.0,185.0 L763.9,186.0 L762.0,190.0 L750.0,189.5 L739.3,188.0Z M834.5,580.0 L839.5,577.5 L843.5,582.0 L841.0,587.5 L835.5,586.5Z M276.0,263.0 L280.0,262.0 L282.0,266.0 L284.0,270.0 L287.0,268.0 L289.0,272.0 L293.0,276.0 L292.0,282.0 L288.0,286.0 L283.0,284.0 L280.0,278.0 L277.0,272.0Z" fill="none" stroke="#55585c" stroke-width="0.8"/>
<path d="M345.5,547.3 L343.5,547.1 L341.7,546.1 L339.5,546.3 L337.8,544.8 L335.6,545.0 L333.8,544.0 L331.9,543.4 L329.6,542.8 L327.5,544.3 L325.3,544.6 L323.0,544.1 L320.8,544.6 L318.5,543.9 L316.3,544.4 L314.0,544.7 L312.1,543.0 L309.9,542.5 L307.7,542.2 L305.4,542.4 L303.2,542.1 L301.1,541.1 L298.9,540.9 L296.7,540.5 L294.7,540.0 L292.7,539.6 L290.9,538.9 L289.0,537.9 L287.0,537.6 L285.2,536.3 L283.3,535.4 L280.9,535.8 L279.0,534.8 L277.2,533.7 L275.0,532.8 L272.8,531.7 L270.5,531.0 L268.4,529.8 L266.4,531.5 L264.2,533.0 L261.6,533.7 L259.7,534.7 L257.7,535.3 L255.4,535.3 L253.5,536.2 L251.8,537.6 L249.6,537.8 L247.6,538.5 L245.6,539.3 L243.9,540.5 L242.0,541.5 L240.2,543.2 L239.7,545.8 L237.4,547.2 L236.2,549.3 L235.1,551.2 L234.5,553.3 L233.2,555.1 L232.3,557.1 L229.9,556.8 L227.8,558.0 L225.5,558.1 L223.4,559.1 L221.1,559.4 L218.7,559.0 L216.6,560.0 L215.9,562.4 L214.4,564.2 L212.7,565.9 L214.5,567.1 L216.7,567.8 L218.6,568.8 L220.0,570.5 L219.9,572.8 L221.1,574.6 L221.6,576.7 L222.5,578.6 L223.6,580.5 L224.4,582.5 L225.3,584.5 L226.4,586.4 L228.4,586.7 L230.5,586.8 L232.4,587.4 L234.2,588.4 L235.0,590.7 L236.7,592.3 L238.1,594.2 L238.7,597.2 L238.1,600.1 L235.9,600.5 L234.2,602.0 L232.1,601.7 L230.1,601.3 L228.4,600.0 L226.3,599.8 L224.4,598.8 L222.5,598.1 L222.6,595.7 L222.5,593.2 L220.1,593.9 L217.6,593.6 L215.2,594.6 L212.7,594.2 L210.7,595.2 L208.7,596.0 L207.2,597.7 L205.0,598.2 L203.3,599.7 L201.0,600.1 L198.8,600.5 L197.1,602.0 L198.0,604.0 L198.7,606.1 L199.7,608.0 L201.0,609.8 L202.5,611.5 L202.2,614.1 L203.6,615.9 L204.9,617.7 L207.1,617.9 L208.6,619.8 L210.8,619.9 L212.9,620.3 L214.7,621.6 L217.0,622.8 L219.6,622.6 L222.0,623.5 L224.5,623.5 L226.3,622.3 L228.5,622.6 L230.1,620.9 L232.2,620.5 L234.2,620.1 L236.2,619.6 L237.6,621.3 L237.3,623.6 L238.1,625.5 L237.9,627.6 L237.1,629.5 L235.8,631.2 L235.6,633.3 L234.3,635.1 L234.2,637.2 L232.2,637.7 L230.1,637.9 L228.3,639.1 L226.2,639.2 L224.3,639.9 L222.5,641.1 L220.7,642.3 L218.5,642.0 L216.7,643.3 L214.6,643.3 L212.7,644.1 L210.8,645.0 L208.3,646.5 L206.5,648.8 L205.2,651.0 L203.1,652.5 L201.2,654.2 L199.7,656.4 L198.2,658.5 L197.7,661.2 L198.2,663.6 L200.1,665.4 L200.2,667.9 L201.2,670.1 L201.8,672.3 L201.1,674.5 L200.7,676.7 L201.2,678.9 L203.0,680.3 L203.3,682.9 L205.0,684.4 L206.5,686.0 L208.2,688.0 L209.2,690.4 L211.5,689.8 L213.8,690.0 L216.1,690.5 L218.4,689.9 L220.7,689.6 L221.7,691.6 L222.2,693.7 L222.4,695.9 L221.7,698.2 L222.5,700.2 L222.4,702.7 L221.2,704.9 L220.7,707.3 L223.1,707.0 L225.4,707.6 L227.8,707.3 L230.4,706.2 L233.1,705.5 L235.4,705.4 L237.4,707.0 L239.8,706.9 L242.0,707.3 L242.6,710.0 L243.7,712.6 L245.3,711.1 L246.7,709.5 L247.3,707.3 L249.4,706.5 L251.5,707.0 L253.7,706.7 L255.8,707.3 L257.9,707.3 L256.1,708.7 L254.9,710.5 L254.5,713.0 L252.6,714.3 L253.1,716.4 L252.1,718.6 L252.3,720.7 L252.8,722.9 L252.6,725.0 L250.9,726.8 L249.4,728.9 L246.9,729.9 L245.5,732.0 L244.5,733.9 L242.7,735.2 L242.0,737.3 L240.1,738.3 L238.8,740.2 L236.8,741.1 L235.1,742.4 L232.7,742.7 L231.3,744.4 L228.9,745.5 L226.9,747.5 L224.2,748.0 L222.1,748.9 L219.8,749.1 L217.6,749.3 L215.4,749.7 L213.6,750.7 L211.9,752.0 L210.2,753.1 L208.7,754.6 L206.5,755.0 L204.4,755.5 L202.5,756.5 L200.6,757.5 L198.3,757.5 L196.0,757.3 L194.2,758.6 L192.9,760.9 L191.0,762.5 L188.8,763.9 L191.4,765.1 L194.2,765.7 L196.1,764.8 L198.2,764.2 L200.4,763.9 L202.3,762.9 L204.5,762.8 L206.5,762.1 L208.5,761.4 L210.7,761.2 L212.7,760.5 L214.1,758.3 L216.4,758.2 L218.5,757.8 L220.5,757.1 L222.4,756.2 L224.2,755.0 L226.3,754.4 L228.3,753.7 L230.2,752.5 L232.2,751.6 L234.5,751.7 L236.6,751.0 L238.4,749.7 L240.5,749.3 L242.1,748.0 L243.6,746.4 L245.7,746.1 L247.4,745.0 L249.0,743.7 L250.8,742.7 L252.7,741.4 L254.2,739.7 L256.1,738.5 L257.7,736.9 L259.6,735.6 L260.5,733.4 L262.4,731.9 L263.8,730.1 L266.1,729.0 L267.0,726.7 L268.5,725.0 L269.7,723.1 L270.8,721.2 L272.1,719.4 L273.8,717.9 L275.0,716.3 L276.2,714.6 L277.5,713.1 L279.9,712.6 L280.9,710.8 L282.6,709.0 L284.4,707.3 L283.5,704.7 L282.7,702.0 L283.7,699.8 L284.2,697.4 L284.8,695.1 L286.2,693.1 L287.0,690.9 L288.6,689.4 L289.9,687.6 L291.5,686.0 L292.9,684.4 L293.7,682.5 L295.3,681.1 L295.5,678.8 L296.8,677.2 L299.5,676.6 L301.6,674.9 L303.9,673.6 L306.0,671.8 L308.4,670.8 L311.0,670.1 L309.6,671.9 L307.9,673.4 L307.4,675.8 L306.0,677.5 L304.5,679.1 L303.9,681.2 L302.2,682.6 L302.2,685.1 L300.5,686.5 L299.4,688.2 L297.6,689.6 L297.3,691.9 L296.2,693.6 L295.3,695.5 L293.5,696.8 L294.7,698.5 L295.2,700.5 L295.5,702.5 L297.4,701.6 L298.6,699.8 L300.4,698.8 L301.9,697.4 L303.9,696.6 L305.8,695.4 L307.8,694.4 L309.4,692.8 L311.0,691.3 L312.5,689.5 L314.8,688.8 L316.7,687.6 L318.1,685.7 L319.8,684.2 L319.6,681.9 L321.2,679.9 L321.7,677.7 L321.6,675.4 L323.7,674.7 L325.9,673.9 L328.1,673.6 L330.4,673.6 L332.0,675.1 L333.2,677.0 L335.0,678.2 L336.3,680.0 L338.7,680.7 L340.0,682.5 L342.2,682.7 L344.2,683.8 L346.4,684.1 L348.6,684.2 L350.7,685.1 L352.9,685.3 L355.2,684.8 L357.6,684.1 L360.0,684.6 L362.2,684.5 L364.4,683.9 L366.6,684.8 L368.8,684.3 L371.0,684.6 L373.2,684.8 L375.4,684.2 L377.6,684.6 L379.6,685.3 L381.8,685.5 L383.4,687.0 L385.0,688.5 L387.2,688.8 L388.8,690.3 L391.3,689.9 L392.9,691.5 L394.7,692.6 L396.9,692.9 L398.7,694.0 L401.0,694.6 L402.9,695.9 L404.5,697.5 L407.2,698.5 L409.2,700.4 L411.2,699.7 L412.4,697.7 L414.8,697.6 L416.2,696.0 L418.1,695.1 L419.8,694.0 L421.1,691.7 L422.2,689.4 L423.3,687.0 L424.8,688.5 L426.6,689.6 L428.5,690.5 L430.0,692.0 L431.3,693.9 L433.5,694.9 L434.6,697.0 L436.1,698.7 L438.0,700.0 L439.3,701.9 L441.4,703.0 L442.5,705.1 L443.9,706.9 L446.0,708.0 L448.0,706.9 L450.0,706.0 L448.3,704.8 L447.2,703.1 L446.2,701.2 L443.9,700.7 L442.3,699.4 L441.4,697.5 L440.0,696.0 L438.5,694.5 L436.9,693.0 L434.9,692.2 L433.8,690.1 L431.4,689.7 L430.0,688.0 L428.4,686.6 L426.0,686.5 L424.1,685.5 L422.6,683.8 L420.3,682.7 L418.4,681.2 L416.9,679.1 L415.0,677.6 L412.7,676.9 L410.4,676.4 L409.2,678.3 L406.8,679.0 L405.7,681.1 L404.1,683.0 L402.6,685.0 L400.8,686.7 L398.7,688.1 L397.1,686.6 L395.4,685.2 L392.9,685.1 L390.9,684.1 L389.7,681.9 L387.4,681.5 L385.8,680.0 L385.9,677.4 L384.6,675.2 L381.1,675.2 L378.8,675.8 L376.3,676.2 L374.1,677.2 L371.7,677.6 L360.0,621.6Z" fill="#E4894A"/>
<path d="M345.5,559.1 C342.2,560.1 333.5,562.0 326.0,564.9 C318.5,567.8 307.1,572.0 300.6,576.6 C294.1,581.2 290.9,586.4 287.0,592.3 C283.1,598.2 280.1,605.0 277.2,611.8 C274.3,618.6 271.3,625.8 269.4,633.3 C267.4,640.8 266.2,651.2 265.5,656.7 C264.8,662.2 264.8,660.4 265.0,666.5 C265.2,672.6 264.9,684.5 266.7,693.1 C268.5,701.7 273.1,710.9 275.6,717.9 C278.2,724.9 280.9,732.1 282.0,735.0 L330.0,740.0 L423.3,690.0 L423.3,660.0 L360.0,540.0Z" fill="#E8B266" clip-path="url(#ak)"/>
<path d="M423.3,600.0 L423.3,687.0 L419.8,694.0 L409.2,700.4 L420.0,720.0 L490.0,745.0 L500.0,690.0 L440.0,600.0Z" fill="#fff" clip-path="url(#ak)"/>
<path d="M345.5,559.1 C342.2,560.1 333.5,562.0 326.0,564.9 C318.5,567.8 307.1,572.0 300.6,576.6 C294.1,581.2 290.9,586.4 287.0,592.3 C283.1,598.2 280.1,605.0 277.2,611.8 C274.3,618.6 271.3,625.8 269.4,633.3 C267.4,640.8 266.2,651.2 265.5,656.7 C264.8,662.2 264.8,660.4 265.0,666.5 C265.2,672.6 264.9,684.5 266.7,693.1 C268.5,701.7 273.1,710.9 275.6,717.9 C278.2,724.9 280.9,732.1 282.0,735.0" fill="none" stroke="#5f6266" stroke-width="1.1" clip-path="url(#ak)"/>
<path d="M345.5,547.3 L343.5,547.1 L341.7,546.1 L339.5,546.3 L337.8,544.8 L335.6,545.0 L333.8,544.0 L331.9,543.4 L329.6,542.8 L327.5,544.3 L325.3,544.6 L323.0,544.1 L320.8,544.6 L318.5,543.9 L316.3,544.4 L314.0,544.7 L312.1,543.0 L309.9,542.5 L307.7,542.2 L305.4,542.4 L303.2,542.1 L301.1,541.1 L298.9,540.9 L296.7,540.5 L294.7,540.0 L292.7,539.6 L290.9,538.9 L289.0,537.9 L287.0,537.6 L285.2,536.3 L283.3,535.4 L280.9,535.8 L279.0,534.8 L277.2,533.7 L275.0,532.8 L272.8,531.7 L270.5,531.0 L268.4,529.8 L266.4,531.5 L264.2,533.0 L261.6,533.7 L259.7,534.7 L257.7,535.3 L255.4,535.3 L253.5,536.2 L251.8,537.6 L249.6,537.8 L247.6,538.5 L245.6,539.3 L243.9,540.5 L242.0,541.5 L240.2,543.2 L239.7,545.8 L237.4,547.2 L236.2,549.3 L235.1,551.2 L234.5,553.3 L233.2,555.1 L232.3,557.1 L229.9,556.8 L227.8,558.0 L225.5,558.1 L223.4,559.1 L221.1,559.4 L218.7,559.0 L216.6,560.0 L215.9,562.4 L214.4,564.2 L212.7,565.9 L214.5,567.1 L216.7,567.8 L218.6,568.8 L220.0,570.5 L219.9,572.8 L221.1,574.6 L221.6,576.7 L222.5,578.6 L223.6,580.5 L224.4,582.5 L225.3,584.5 L226.4,586.4 L228.4,586.7 L230.5,586.8 L232.4,587.4 L234.2,588.4 L235.0,590.7 L236.7,592.3 L238.1,594.2 L238.7,597.2 L238.1,600.1 L235.9,600.5 L234.2,602.0 L232.1,601.7 L230.1,601.3 L228.4,600.0 L226.3,599.8 L224.4,598.8 L222.5,598.1 L222.6,595.7 L222.5,593.2 L220.1,593.9 L217.6,593.6 L215.2,594.6 L212.7,594.2 L210.7,595.2 L208.7,596.0 L207.2,597.7 L205.0,598.2 L203.3,599.7 L201.0,600.1 L198.8,600.5 L197.1,602.0 L198.0,604.0 L198.7,606.1 L199.7,608.0 L201.0,609.8 L202.5,611.5 L202.2,614.1 L203.6,615.9 L204.9,617.7 L207.1,617.9 L208.6,619.8 L210.8,619.9 L212.9,620.3 L214.7,621.6 L217.0,622.8 L219.6,622.6 L222.0,623.5 L224.5,623.5 L226.3,622.3 L228.5,622.6 L230.1,620.9 L232.2,620.5 L234.2,620.1 L236.2,619.6 L237.6,621.3 L237.3,623.6 L238.1,625.5 L237.9,627.6 L237.1,629.5 L235.8,631.2 L235.6,633.3 L234.3,635.1 L234.2,637.2 L232.2,637.7 L230.1,637.9 L228.3,639.1 L226.2,639.2 L224.3,639.9 L222.5,641.1 L220.7,642.3 L218.5,642.0 L216.7,643.3 L214.6,643.3 L212.7,644.1 L210.8,645.0 L208.3,646.5 L206.5,648.8 L205.2,651.0 L203.1,652.5 L201.2,654.2 L199.7,656.4 L198.2,658.5 L197.7,661.2 L198.2,663.6 L200.1,665.4 L200.2,667.9 L201.2,670.1 L201.8,672.3 L201.1,674.5 L200.7,676.7 L201.2,678.9 L203.0,680.3 L203.3,682.9 L205.0,684.4 L206.5,686.0 L208.2,688.0 L209.2,690.4 L211.5,689.8 L213.8,690.0 L216.1,690.5 L218.4,689.9 L220.7,689.6 L221.7,691.6 L222.2,693.7 L222.4,695.9 L221.7,698.2 L222.5,700.2 L222.4,702.7 L221.2,704.9 L220.7,707.3 L223.1,707.0 L225.4,707.6 L227.8,707.3 L230.4,706.2 L233.1,705.5 L235.4,705.4 L237.4,707.0 L239.8,706.9 L242.0,707.3 L242.6,710.0 L243.7,712.6 L245.3,711.1 L246.7,709.5 L247.3,707.3 L249.4,706.5 L251.5,707.0 L253.7,706.7 L255.8,707.3 L257.9,707.3 L256.1,708.7 L254.9,710.5 L254.5,713.0 L252.6,714.3 L253.1,716.4 L252.1,718.6 L252.3,720.7 L252.8,722.9 L252.6,725.0 L250.9,726.8 L249.4,728.9 L246.9,729.9 L245.5,732.0 L244.5,733.9 L242.7,735.2 L242.0,737.3 L240.1,738.3 L238.8,740.2 L236.8,741.1 L235.1,742.4 L232.7,742.7 L231.3,744.4 L228.9,745.5 L226.9,747.5 L224.2,748.0 L222.1,748.9 L219.8,749.1 L217.6,749.3 L215.4,749.7 L213.6,750.7 L211.9,752.0 L210.2,753.1 L208.7,754.6 L206.5,755.0 L204.4,755.5 L202.5,756.5 L200.6,757.5 L198.3,757.5 L196.0,757.3 L194.2,758.6 L192.9,760.9 L191.0,762.5 L188.8,763.9 L191.4,765.1 L194.2,765.7 L196.1,764.8 L198.2,764.2 L200.4,763.9 L202.3,762.9 L204.5,762.8 L206.5,762.1 L208.5,761.4 L210.7,761.2 L212.7,760.5 L214.1,758.3 L216.4,758.2 L218.5,757.8 L220.5,757.1 L222.4,756.2 L224.2,755.0 L226.3,754.4 L228.3,753.7 L230.2,752.5 L232.2,751.6 L234.5,751.7 L236.6,751.0 L238.4,749.7 L240.5,749.3 L242.1,748.0 L243.6,746.4 L245.7,746.1 L247.4,745.0 L249.0,743.7 L250.8,742.7 L252.7,741.4 L254.2,739.7 L256.1,738.5 L257.7,736.9 L259.6,735.6 L260.5,733.4 L262.4,731.9 L263.8,730.1 L266.1,729.0 L267.0,726.7 L268.5,725.0 L269.7,723.1 L270.8,721.2 L272.1,719.4 L273.8,717.9 L275.0,716.3 L276.2,714.6 L277.5,713.1 L279.9,712.6 L280.9,710.8 L282.6,709.0 L284.4,707.3 L283.5,704.7 L282.7,702.0 L283.7,699.8 L284.2,697.4 L284.8,695.1 L286.2,693.1 L287.0,690.9 L288.6,689.4 L289.9,687.6 L291.5,686.0 L292.9,684.4 L293.7,682.5 L295.3,681.1 L295.5,678.8 L296.8,677.2 L299.5,676.6 L301.6,674.9 L303.9,673.6 L306.0,671.8 L308.4,670.8 L311.0,670.1 L309.6,671.9 L307.9,673.4 L307.4,675.8 L306.0,677.5 L304.5,679.1 L303.9,681.2 L302.2,682.6 L302.2,685.1 L300.5,686.5 L299.4,688.2 L297.6,689.6 L297.3,691.9 L296.2,693.6 L295.3,695.5 L293.5,696.8 L294.7,698.5 L295.2,700.5 L295.5,702.5 L297.4,701.6 L298.6,699.8 L300.4,698.8 L301.9,697.4 L303.9,696.6 L305.8,695.4 L307.8,694.4 L309.4,692.8 L311.0,691.3 L312.5,689.5 L314.8,688.8 L316.7,687.6 L318.1,685.7 L319.8,684.2 L319.6,681.9 L321.2,679.9 L321.7,677.7 L321.6,675.4 L323.7,674.7 L325.9,673.9 L328.1,673.6 L330.4,673.6 L332.0,675.1 L333.2,677.0 L335.0,678.2 L336.3,680.0 L338.7,680.7 L340.0,682.5 L342.2,682.7 L344.2,683.8 L346.4,684.1 L348.6,684.2 L350.7,685.1 L352.9,685.3 L355.2,684.8 L357.6,684.1 L360.0,684.6 L362.2,684.5 L364.4,683.9 L366.6,684.8 L368.8,684.3 L371.0,684.6 L373.2,684.8 L375.4,684.2 L377.6,684.6 L379.6,685.3 L381.8,685.5 L383.4,687.0 L385.0,688.5 L387.2,688.8 L388.8,690.3 L391.3,689.9 L392.9,691.5 L394.7,692.6 L396.9,692.9 L398.7,694.0 L401.0,694.6 L402.9,695.9 L404.5,697.5 L407.2,698.5 L409.2,700.4 L411.2,699.7 L412.4,697.7 L414.8,697.6 L416.2,696.0 L418.1,695.1 L419.8,694.0 L421.1,691.7 L422.2,689.4 L423.3,687.0 L424.8,688.5 L426.6,689.6 L428.5,690.5 L430.0,692.0 L431.3,693.9 L433.5,694.9 L434.6,697.0 L436.1,698.7 L438.0,700.0 L439.3,701.9 L441.4,703.0 L442.5,705.1 L443.9,706.9 L446.0,708.0 L448.0,706.9 L450.0,706.0 L448.3,704.8 L447.2,703.1 L446.2,701.2 L443.9,700.7 L442.3,699.4 L441.4,697.5 L440.0,696.0 L438.5,694.5 L436.9,693.0 L434.9,692.2 L433.8,690.1 L431.4,689.7 L430.0,688.0 L428.4,686.6 L426.0,686.5 L424.1,685.5 L422.6,683.8 L420.3,682.7 L418.4,681.2 L416.9,679.1 L415.0,677.6 L412.7,676.9 L410.4,676.4 L409.2,678.3 L406.8,679.0 L405.7,681.1 L404.1,683.0 L402.6,685.0 L400.8,686.7 L398.7,688.1 L397.1,686.6 L395.4,685.2 L392.9,685.1 L390.9,684.1 L389.7,681.9 L387.4,681.5 L385.8,680.0 L385.9,677.4 L384.6,675.2 L381.1,675.2 L378.8,675.8 L376.3,676.2 L374.1,677.2 L371.7,677.6 L360.0,621.6Z" fill="none" stroke="#55585c" stroke-width="1.25" stroke-linejoin="round"/>
<path d="M121.0,399.5 L127.0,400.0 L133.0,402.0 L138.0,404.5 L132.0,405.0 L125.0,403.0Z M131.0,419.0 L134.0,419.5 L133.0,421.5 L130.5,421.0Z M149.0,419.0 L153.0,420.0 L152.0,423.0 L149.0,422.0Z M146.0,430.0 L149.0,431.0 L149.0,435.0 L146.0,434.0Z M273.8,730.3 L289.7,712.6 L295.9,716.1 L293.3,728.5 L282.7,739.1 L273.8,742.7Z M167.8,623.5 L175.6,627.4 L185.4,635.2 L179.5,638.2 L171.7,631.3 L167.8,627.4Z M185.3,678.9 L194.2,678.0 L197.7,684.2 L190.6,686.9 L186.2,682.5Z" fill="#E4894A" stroke="#55585c" stroke-width="1.3"/>
<path d="M189.7,765.5 L188.4,766.3 L186.8,765.9 L185.4,766.7 L184.0,767.0 M182.0,768.5 L180.7,769.5 L179.1,769.5 L177.5,769.7 L176.0,770.0 M172.0,771.0 L170.6,771.7 L169.2,772.5 L167.7,773.1 L166.0,773.0 M161.9,774.4 L161.0,775.6 L159.1,774.7 L158.1,775.6 L157.0,776.5 M153.0,778.5 L151.9,779.6 L150.2,779.2 L149.0,780.0 M144.0,779.5 L142.3,778.9 L140.7,779.7 L139.0,780.0 M133.0,780.0 L131.5,780.3 L130.3,779.4 L129.0,779.0 M120.0,780.5 L118.6,780.4 L117.1,780.6 L115.8,779.8 L114.3,780.5 L113.0,779.5 L111.9,778.4 L110.4,778.3 L109.0,777.8 L107.8,776.8 L106.2,777.0 M101.0,776.5 L99.6,776.1 L98.1,776.5 L96.7,776.3 L95.3,776.3 L94.0,775.5 L92.5,776.0 L91.3,774.5 L90.0,774.1 L88.5,774.4 M83.0,774.0 L81.5,774.1 L80.1,774.1 L78.8,773.2 L77.4,772.7 L75.9,773.1 L74.6,772.0 L72.8,772.8 L71.6,771.5 L70.0,771.5 M66.0,771.0 L64.5,771.0 L63.2,771.7 L62.1,772.8 L60.7,773.1 M53.1,760.5 L51.5,762.0 M46.0,765.0 L44.5,766.5 M40.5,756.7 L39.5,758.0 M32.9,752.9 L35.0,754.0 M24.0,742.8 L24.5,743.5 M3.0,722.5 L4.8,723.1 L6.0,724.5 M6.3,731.4 L7.5,732.0 M11.4,730.1 L12.0,730.5 M205.0,752.0 L206.0,753.2 L207.6,753.3 L208.9,754.1 L210.0,755.0 M216.0,749.0 L217.2,749.7 L218.5,750.0 L219.4,751.3 L221.0,751.0 L222.0,752.0 L223.0,750.7 L224.7,750.8 L226.0,750.0 M228.0,756.0 L229.2,756.9 L230.4,757.8 L232.0,758.0 M233.0,746.0 L234.1,746.8 L235.3,747.6 L236.5,748.2 L238.0,748.0 M207.0,768.0 L209.0,769.0 M290.0,748.0 L291.0,749.0 L292.0,750.0 L293.0,751.0 M268.0,745.0 L269.4,745.6 L270.0,747.0" fill="none" stroke="#55585c" stroke-width="1.7" stroke-linecap="round"/>
<path d="M418.6,711.6 L420.2,712.3 L421.8,712.7 L423.4,713.1 L425.1,712.8 L426.8,712.5 L428.5,711.6 L430.0,713.0 L431.6,713.7 L433.4,713.1 L435.0,713.5 L436.5,714.9 L438.4,712.8 L440.0,714.0 L441.3,715.2 L443.5,713.8 L444.4,716.1 L445.9,716.9 L447.9,715.9 L449.2,717.2 L450.3,718.8 L452.1,718.5 L453.8,718.6 M451.4,711.6 L453.1,711.8 L454.9,711.1 L456.6,710.6 L458.3,711.5 L460.0,712.0 L461.6,712.7 L463.4,713.1 L464.8,714.2 L466.5,714.7 L467.2,717.0 L469.0,717.4 M442.0,731.5 L443.4,732.6 L445.5,732.2 L447.1,732.9 L448.4,734.3 L450.0,735.0 L451.5,735.7 L452.1,737.7 L454.3,737.2 L455.8,737.9 L456.3,740.1 L458.8,739.2 L459.6,740.9 M444.0,728.0 L445.4,728.7 L447.1,728.6 L448.2,730.3 L450.0,730.1 L451.3,731.2 L453.0,731.0 M456.0,733.0 L457.9,732.9 L458.8,734.9 L460.4,735.5 L462.0,736.0 M405.0,702.0 L406.5,702.8 L407.5,704.4 L408.8,705.4 L411.3,704.5 L412.4,705.8 L413.8,706.8 L415.0,708.0 M465.0,722.0 L466.8,722.4 L468.3,723.0 L469.1,724.5 L470.0,726.0" fill="none" stroke="#5a5d61" stroke-width="1.9" stroke-linecap="round"/>

<text x="500.8" y="242.9" font-size="23" font-weight="bold" text-anchor="middle" stroke="#fff" stroke-width="4" stroke-linejoin="round" fill="#fff">Equal</text><text x="500.8" y="242.9" font-size="23" font-weight="bold" text-anchor="middle" fill="#000">Equal</text><text x="501" y="269" font-size="23" font-weight="bold" text-anchor="middle" stroke="#fff" stroke-width="4" stroke-linejoin="round" fill="#fff">Chances</text><text x="501" y="269" font-size="23" font-weight="bold" text-anchor="middle" fill="#000">Chances</text><text x="250.9" y="432.8" font-size="23.5" font-weight="bold" text-anchor="start" stroke="#fff" stroke-width="4" stroke-linejoin="round" fill="#fff">Above</text><text x="250.9" y="432.8" font-size="23.5" font-weight="bold" text-anchor="start" fill="#000">Above</text><text x="798.3" y="406.9" font-size="23.5" font-weight="bold" text-anchor="start" stroke="#fff" stroke-width="4" stroke-linejoin="round" fill="#fff">Above</text><text x="798.3" y="406.9" font-size="23.5" font-weight="bold" text-anchor="start" fill="#000">Above</text><text x="230.5" y="581.5" font-size="18.5" font-weight="bold" text-anchor="start" stroke="#fff" stroke-width="4" stroke-linejoin="round" fill="#fff">Above</text><text x="230.5" y="581.5" font-size="18.5" font-weight="bold" text-anchor="start" fill="#000">Above</text><text x="434.7" y="708.6" font-size="18" font-weight="bold" text-anchor="middle" stroke="#fff" stroke-width="4" stroke-linejoin="round" fill="#fff">Equal</text><text x="434.7" y="708.6" font-size="18" font-weight="bold" text-anchor="middle" fill="#000">Equal</text><text x="434.7" y="729.1" font-size="18" font-weight="bold" text-anchor="middle" stroke="#fff" stroke-width="4" stroke-linejoin="round" fill="#fff">Chances</text><text x="434.7" y="729.1" font-size="18" font-weight="bold" text-anchor="middle" fill="#000">Chances</text>
<rect x="558.5" y="644.00" width="29.5" height="13" fill="#E8B266" stroke="#777" stroke-width="1"/><rect x="777.5" y="644.00" width="29.5" height="13" fill="#BCCAE6" stroke="#777" stroke-width="1"/><text x="595.5" y="655.50" font-size="12.1" fill="#222">33-40%</text><text x="771" y="655.50" font-size="12.1" fill="#222" text-anchor="end">33-40%</text><rect x="558.5" y="664.75" width="29.5" height="13" fill="#E58B4A" stroke="#777" stroke-width="1"/><rect x="777.5" y="664.75" width="29.5" height="13" fill="#A9C4E4" stroke="#777" stroke-width="1"/><text x="595.5" y="676.25" font-size="12.1" fill="#222">40-50%</text><text x="771" y="676.25" font-size="12.1" fill="#222" text-anchor="end">40-50%</text><rect x="558.5" y="685.50" width="29.5" height="13" fill="#DD5E30" stroke="#777" stroke-width="1"/><rect x="777.5" y="685.50" width="29.5" height="13" fill="#76B4E3" stroke="#777" stroke-width="1"/><text x="595.5" y="697.00" font-size="12.1" fill="#222">50-60%</text><text x="771" y="697.00" font-size="12.1" fill="#222" text-anchor="end">50-60%</text><rect x="558.5" y="706.25" width="29.5" height="13" fill="#CB2B2A" stroke="#777" stroke-width="1"/><rect x="777.5" y="706.25" width="29.5" height="13" fill="#3A9AD8" stroke="#777" stroke-width="1"/><text x="595.5" y="717.75" font-size="12.1" fill="#222">60-70%</text><text x="771" y="717.75" font-size="12.1" fill="#222" text-anchor="end">60-70%</text><rect x="558.5" y="727.00" width="29.5" height="13" fill="#D2324E" stroke="#777" stroke-width="1"/><rect x="777.5" y="727.00" width="29.5" height="13" fill="#0B63A9" stroke="#777" stroke-width="1"/><text x="595.5" y="738.50" font-size="12.1" fill="#222">70-80%</text><text x="771" y="738.50" font-size="12.1" fill="#222" text-anchor="end">70-80%</text><rect x="558.5" y="747.75" width="29.5" height="13" fill="#8B2F38" stroke="#777" stroke-width="1"/><rect x="777.5" y="747.75" width="29.5" height="13" fill="#2F2379" stroke="#777" stroke-width="1"/><text x="595.5" y="759.25" font-size="12.1" fill="#222">80-90%</text><text x="771" y="759.25" font-size="12.1" fill="#222" text-anchor="end">80-90%</text><rect x="558.5" y="768.50" width="29.5" height="13" fill="#5E2424" stroke="#777" stroke-width="1"/><rect x="777.5" y="768.50" width="29.5" height="13" fill="#22195A" stroke="#777" stroke-width="1"/><text x="595.5" y="780.00" font-size="12.1" fill="#222">90-100%</text><text x="771" y="780.00" font-size="12.1" fill="#222" text-anchor="end">90-100%</text><text x="565.5" y="609.1" font-size="17.1" font-weight="bold" fill="#000">Probability (Percent Chance)</text><text x="558.6" y="630.2" font-size="12.9" font-weight="bold" fill="#111">Above Normal</text><text x="720.8" y="630.2" font-size="12.9" font-weight="bold" fill="#111">Below Normal</text><text x="682.4" y="687.9" font-size="12.9" font-weight="bold" fill="#111" text-anchor="middle">Equal</text><text x="682.4" y="702.4" font-size="12.9" font-weight="bold" fill="#111" text-anchor="middle">Chances</text><rect x="668.5" y="716.5" width="29" height="13" fill="#fff" stroke="#777" stroke-width="1"/><text x="502.8" y="656.7" font-size="15" fill="#111" text-anchor="middle">Leaning</text><text x="502.8" y="673.7" font-size="15" fill="#111" text-anchor="middle">Above</text><text x="502.8" y="729.8" font-size="15" fill="#111" text-anchor="middle">Likely</text><text x="502.8" y="746.8" font-size="15" fill="#111" text-anchor="middle">Above</text><text x="865.3" y="656.3" font-size="15" fill="#111" text-anchor="middle">Leaning</text><text x="865.3" y="673.5" font-size="15" fill="#111" text-anchor="middle">Below</text><text x="865.3" y="729.1" font-size="15" fill="#111" text-anchor="middle">Likely</text><text x="865.3" y="746.3" font-size="15" fill="#111" text-anchor="middle">Below</text><path d="M554,642.8 Q543.25,642.8 543.25,650.8 L543.25,652.9 Q543.25,660.9 532.5,660.9 Q543.25,660.9 543.25,668.9 L543.25,671 Q543.25,679 554,679" fill="none" stroke="#222" stroke-width="1.1"/><path d="M554,685.6 Q543.0,685.6 543.0,697.6 L543.0,721.8 Q543.0,733.8 532,733.8 Q543.0,733.8 543.0,745.8 L543.0,770 Q543.0,782 554,782" fill="none" stroke="#222" stroke-width="1.1"/><path d="M814.3,643.1 Q824.65,643.1 824.65,651.1 L824.65,653.05 Q824.65,661.05 835,661.05 Q824.65,661.05 824.65,669.05 L824.65,671 Q824.65,679 814.3,679" fill="none" stroke="#222" stroke-width="1.1"/><path d="M814.3,685.6 Q824.65,685.6 824.65,697.6 L824.65,721.6500000000001 Q824.65,733.6500000000001 835,733.6500000000001 Q824.65,733.6500000000001 824.65,745.6500000000001 L824.65,769.7 Q824.65,781.7 814.3,781.7" fill="none" stroke="#222" stroke-width="1.1"/>
<g>
<defs><path id="arcT" d="M74.3,32.1 A23.6,23.6 0 0 1 121.5,32.1"/><path id="arcB" d="M70.6,32.1 A27.3,27.3 0 0 0 125.2,32.1"/></defs>
<circle cx="97.9" cy="32.1" r="28.6" fill="#2B98D5" stroke="#1a4f7a" stroke-width="0.8"/>
<circle cx="97.9" cy="32.1" r="22.2" fill="#fff" stroke="#1a4f7a" stroke-width="0.8"/>
<text font-size="4.6" fill="#fff" letter-spacing="0.45"><textPath href="#arcT" startOffset="50%" text-anchor="middle">DEPARTMENT OF COMMERCE</textPath></text>
<text font-size="4.6" fill="#fff" letter-spacing="0.45"><textPath href="#arcB" startOffset="50%" text-anchor="middle">UNITED STATES OF AMERICA</textPath></text>
<circle cx="72.5" cy="32.1" r="0.7" fill="#fff"/><circle cx="123.3" cy="32.1" r="0.7" fill="#fff"/>
<path d="M85.3,27.5 L110.8,27.5 L109,46.7 L97.8,52.5 L87,46.7Z" fill="#E0B21E" stroke="#222" stroke-width="0.7"/>
<path d="M85.3,27.5 L110.8,27.5 L109.9,38.3 L86.2,38.3Z" fill="#2E8FD0"/>
<path d="M86.2,36.5 L109.9,36.5 L109.9,38.6 L86.2,38.6Z" fill="#111"/>
<path d="M89,32.5 L93,30 L103,30 L106,33.5 L104,35 L92,35Z" fill="#ddd" stroke="#333" stroke-width="0.5"/>
<line x1="97.8" y1="38" x2="97.8" y2="51" stroke="#222" stroke-width="1"/>
<rect x="92.5" y="25" width="10.5" height="2.6" fill="#888"/>
<path d="M90.3,13.3 Q94,16 96.5,18.5 L99,18.5 Q102,16 105.8,13.3 Q104,20 100.5,24.8 L95,24.8 Q92,20 90.3,13.3Z" fill="#3b2a16"/>
<circle cx="97.8" cy="19" r="1.6" fill="#eee"/>
</g>
<g>
<circle cx="926.3" cy="32.5" r="29.3" fill="#0A86CD"/>
<path d="M902.5,15.4 A29.3,29.3 0 0 1 949.6,14.6 C944,21 941,29 933.3,35.8 C930,38.5 921,38 917.5,33.3 C913,28 908,21 902.5,15.4Z" fill="#0E2B8E"/>
<path d="M897.9,24.2 A29.3,29.3 0 0 1 902.5,15.4 C908,21 913,28 917.5,33.3 C921,38 930,38.5 933.3,35.8 C941,29 944,21 949.6,14.6 A29.3,29.3 0 0 1 952.5,19.6 C947,25 943,30 941.7,31.7 C936,37 931.7,38.3 929,39.3 L939.2,38.6 C933,40.5 925,42.5 917.5,43.6 C921,41.5 923.3,40.2 923.3,40 C915,37.5 906.7,30.8 897.9,25Z" fill="#fff"/>
<text transform="translate(926.1,22.4) scale(0.78,1)" font-size="10.6" font-weight="bold" fill="#fff" text-anchor="middle">NOAA</text>
</g>
<text transform="translate(512,45.5) scale(0.950,1)" font-size="49.1" fill="#000" text-anchor="middle">Seasonal Temperature Outlook</text>
<text x="362.2" y="81.8" font-size="20.7" font-weight="bold" fill="#000">Valid:</text>
<text x="426.2" y="81.8" font-size="20.7" fill="#000">Apr-May-Jun 2024</text>
<text x="362.2" y="104.6" font-size="20.7" font-weight="bold" fill="#000">Issued:</text>
<text x="446" y="104.6" font-size="20.7" fill="#000">March 16, 2023</text>
</svg>
</body></html>
